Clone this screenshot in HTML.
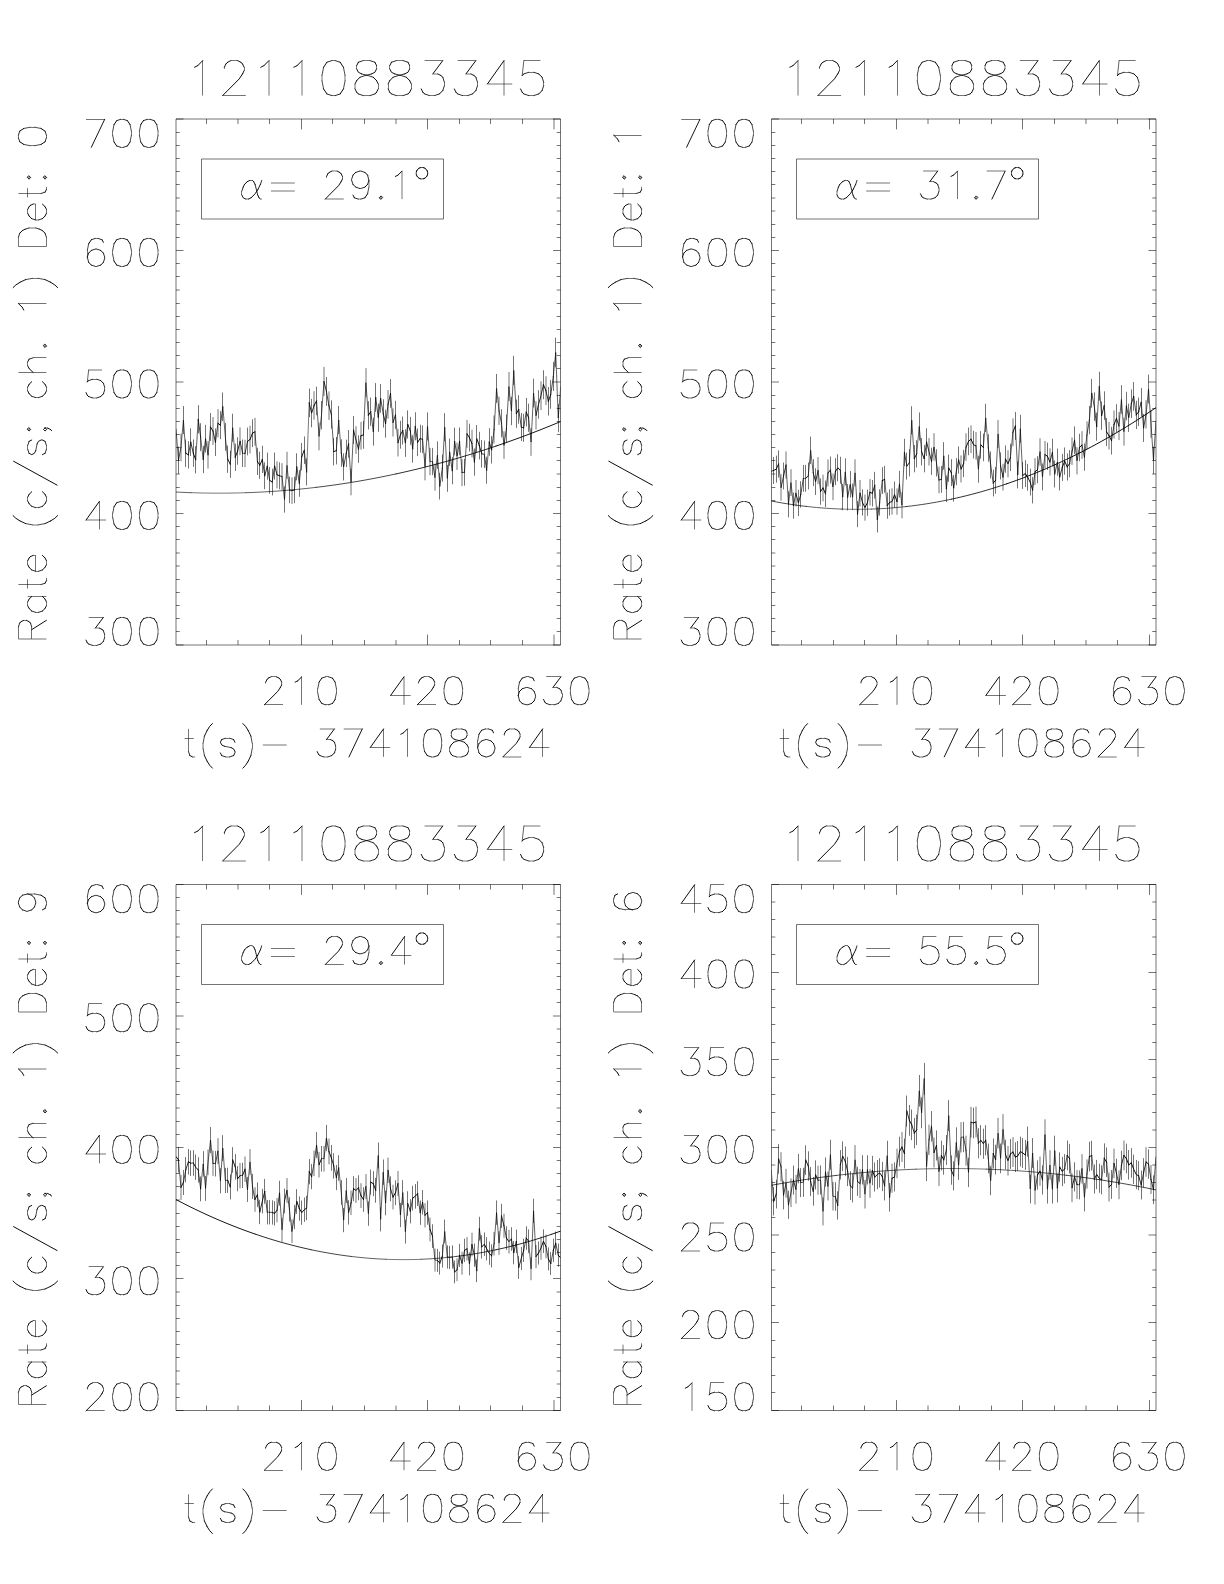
<!DOCTYPE html>
<html><head><meta charset="utf-8"><title>plot</title>
<style>html,body{margin:0;padding:0;background:#fff;font-family:"Liberation Sans",sans-serif}svg{display:block}</style>
</head><body>
<svg width="1224" height="1584" viewBox="0 0 1224 1584">
<rect width="1224" height="1584" fill="#fff"/>
<g fill="none" stroke="#000" stroke-linejoin="round">
<path stroke-width="0.550" d="M176 119H560.5V645H176ZM206.5 119v5M206.5 645v-5M238 119v5M238 645v-5M269.5 119v5M269.5 645v-5M301.5 119v10.4M301.5 645v-10.4M332.5 119v5M332.5 645v-5M364.5 119v5M364.5 645v-5M396 119v5M396 645v-5M427.5 119v10.4M427.5 645v-10.4M459.5 119v5M459.5 645v-5M490.5 119v5M490.5 645v-5M522.5 119v5M522.5 645v-5M554 119v10.4M554 645v-10.4M176 645h7.5M560.5 645h-7.5M176 631.5h3.8M560.5 631.5h-3.8M176 618.5h3.8M560.5 618.5h-3.8M176 605.5h3.8M560.5 605.5h-3.8M176 592.5h3.8M560.5 592.5h-3.8M176 579.5h3.8M560.5 579.5h-3.8M176 566h3.8M560.5 566h-3.8M176 553h3.8M560.5 553h-3.8M176 539.5h3.8M560.5 539.5h-3.8M176 526.5h3.8M560.5 526.5h-3.8M176 513.5h7.5M560.5 513.5h-7.5M176 500.5h3.8M560.5 500.5h-3.8M176 487.5h3.8M560.5 487.5h-3.8M176 474h3.8M560.5 474h-3.8M176 460.5h3.8M560.5 460.5h-3.8M176 447.5h3.8M560.5 447.5h-3.8M176 434.5h3.8M560.5 434.5h-3.8M176 421.5h3.8M560.5 421.5h-3.8M176 408.5h3.8M560.5 408.5h-3.8M176 395.5h3.8M560.5 395.5h-3.8M176 382h7.5M560.5 382h-7.5M176 368.5h3.8M560.5 368.5h-3.8M176 355.5h3.8M560.5 355.5h-3.8M176 342.5h3.8M560.5 342.5h-3.8M176 329.5h3.8M560.5 329.5h-3.8M176 316.5h3.8M560.5 316.5h-3.8M176 303.5h3.8M560.5 303.5h-3.8M176 290h3.8M560.5 290h-3.8M176 276.5h3.8M560.5 276.5h-3.8M176 263.5h3.8M560.5 263.5h-3.8M176 250.5h7.5M560.5 250.5h-7.5M176 237.5h3.8M560.5 237.5h-3.8M176 224.5h3.8M560.5 224.5h-3.8M176 211h3.8M560.5 211h-3.8M176 198h3.8M560.5 198h-3.8M176 184.5h3.8M560.5 184.5h-3.8M176 171.5h3.8M560.5 171.5h-3.8M176 158.5h3.8M560.5 158.5h-3.8M176 145.5h3.8M560.5 145.5h-3.8M176 132.5h3.8M560.5 132.5h-3.8M176 119h7.5M560.5 119h-7.5M201.5 159H443.5V219H201.5ZM178.5 446.53v27.26M181 433.72v27.56M183.5 406.03v28.19M185.5 439.51v27.43M188.5 441.16v27.39M190.5 428.35v27.68M193.5 439.51v27.43M195.5 446.12v27.27M198.5 405.21v28.21M200.5 423.22v27.8M203.5 445.87v27.28M205.5 424.79v27.77M208 441.16v27.39M210.5 412.98v28.03M213 417.03v27.94M215.5 428.35v27.68M218 409.17v28.12M220.5 411.08v28.08M222.5 392.48v28.49M225.5 422.98v27.81M227.5 445.54v27.29M230.5 450.66v27.17M232.5 413.72v28.02M235.5 443.64v27.33M237.5 437.27v27.48M240 427.44v27.71M242.5 439.59v27.43M245 439.75v27.42M247.5 427.6v27.7M250 425.7v27.75M252.5 419.26v27.89M255 417.85v27.92M257.5 447.77v27.24M259.5 451.66v27.15M262.5 445.79v27.28M264.5 462.32v26.89M267.5 452.57v27.12M269.5 466.95v26.79M272.5 468.67v26.74M274.5 452.48v27.13M277 461.39v26.92M279.5 462.35v26.89M282 463.11v26.88M284.5 486.31v26.32M287 451.81v27.14M289.5 476.63v26.56M292 477.39v26.54M294.5 476.72v26.55M296.5 453.25v27.11M299.5 470.11v26.71M301.5 442.99v27.35M304.5 436.48v27.5M306.5 458.52v26.98M309.5 388.49v28.58M311.5 398.93v28.35M314 391.17v28.52M316.5 386.67v28.62M319 422.49v27.82M321.5 401.04v28.3M324 366.95v29.06M326.5 377v28.84M329 391.37v28.52M331.5 400.37v28.32M333.5 437.92v27.46M336.5 436.96v27.49M338.5 405.92v28.19M341.5 439.35v27.43M343.5 453.34v27.11M346.5 439.64v27.42M348.5 430.06v27.65M351 468.58v26.75M353.5 416.07v27.96M356 426.23v27.73M358.5 435.33v27.52M361 421.82v27.83M363.5 420.96v27.85M366 368.14v29.03M368.5 401.17v28.3M370.5 397.53v28.38M373.5 417.74v27.93M375.5 383.07v28.7M378.5 403.57v28.25M380.5 383.93v28.68M383.5 399.26v28.34M385.5 409.6v28.11M388 390.06v28.55M390.5 379.05v28.79M393 408.35v28.14M395.5 400.79v28.31M398 428.85v27.67M400.5 420.81v27.86M402.5 416.59v27.95M405.5 429.24v27.66M407.5 410.37v28.09M410.5 416.88v27.95M412.5 435.18v27.53M415.5 412.28v28.05M417.5 428.47v27.68M420.5 424.73v27.77M422.5 425.4v27.75M425 453.28v27.11M427.5 412.38v28.05M430 447.92v27.23M432.5 447.92v27.23M435 463.82v26.86M437.5 441.4v27.38M439.5 472.83v26.65M442.5 454.62v27.08M444.5 413.14v28.03M447.5 464.97v26.83M449.5 438.53v27.45M452.5 457.31v27.01M454.5 427.61v27.7M457 442.55v27.36M459.5 427.51v27.7M462 459.13v26.97M464.5 458.75v26.98M467 419.94v27.88M469.5 423.68v27.79M472 429.72v27.65M474.5 448.49v27.22M476.5 425.02v27.76M479.5 431.82v27.6M481.5 440.06v27.41M484.5 440.54v27.4M486.5 456.64v27.03M489.5 428.18v27.69M491.5 436.04v27.51M494 415.44v27.98M496.5 373.98v28.9M499 396.57v28.4M501.5 409.22v28.12M504 431.25v27.62M506.5 414.48v28M509 372.06v28.95M511.5 396.77v28.4M513.5 355.79v29.3M516.5 399.54v28.34M518.5 395.23v28.43M521.5 413.05v28.03M523.5 413.81v28.02M526.5 397.92v28.37M528.5 403.57v28.25M531 428.18v27.69M533.5 378.67v28.8M536 401.17v28.3M538.5 390.16v28.55M541 381.35v28.74M543.5 370.24v28.99M546 376.18v28.86M548.5 387v28.62M550.5 380.01v28.77M553.5 361.82v29.17M555.5 337.6v29.69M558.5 404.04v28.24"/>
<clipPath id="c1"><rect x="176" y="119" width="384.5" height="526"/></clipPath><g clip-path="url(#c1)" stroke-linecap="round"><path stroke-linecap="butt" stroke-width="0.550" d="M430 461.5H432.46"/>
<path stroke-width="0.530" d="M306.7 472.01L309.16 402.78M191 492.69L196 492.84L201 492.97L206 493.06L211 493.12L216 493.16L221 493.16L226 493.13L231 493.07L236 492.98L241 492.86L246 492.71"/>
<path stroke-width="0.618" d="M176 429.12L178.47 460.16M180.93 447.5L183.4 420.13L185.86 453.22M195.73 459.75L198.19 419.31M200.66 437.12L203.13 459.51M208.06 454.85L210.52 426.99M222.85 406.73L225.32 436.88L227.79 459.18M230.25 464.25L232.72 427.73L235.18 457.3M242.58 453.3L245.05 453.46M254.91 431.81L257.38 461.39M282.04 476.55L284.5 499.47L286.97 465.38L289.44 489.91M294.37 490L296.83 466.8M299.3 483.47L301.77 456.67M304.23 450.23L306.7 472.01M316.56 400.98L319.03 436.4L321.49 415.19L323.96 381.48M331.36 414.53L333.82 451.65M336.29 450.7L338.76 420.02L341.22 453.07M348.62 443.88L351.09 481.95L353.55 430.06M363.42 434.89L365.88 382.65L368.35 415.32M373.28 431.7L375.75 397.42M390.54 393.45L393.01 422.42M395.47 414.94L397.94 442.69M412.74 448.94L415.2 426.31M422.6 439.28L425.07 466.84L427.53 426.4L430 461.53M434.93 477.25L437.4 455.09L439.86 486.16M442.33 468.16L444.79 427.16L447.26 478.39L449.73 452.25M452.19 470.81L454.66 441.46M459.59 441.36L462.06 472.61M464.52 472.23L466.99 433.88M474.39 462.1L476.85 438.9M486.72 470.15L489.18 442.03M494.11 429.43L496.58 388.43L499.05 410.78M501.51 423.28L503.98 445.06M506.44 428.48L508.91 386.53L511.38 410.97L513.84 370.44L516.31 413.71M528.64 417.69L531.1 442.03L533.57 393.07L536.04 415.32M553.3 376.4L555.76 352.44L558.23 418.16L560.7 386.82M176 492.04L181 492.29L186 492.5L191 492.69M246 492.71L251 492.52L256 492.31L261 492.07L266 491.79L271 491.49L276 491.15L281 490.79L286 490.39L291 489.97L296 489.51L301 489.02L306 488.5L311 487.95L316 487.37"/>
<path stroke-width="0.717" d="M178.47 460.16L180.93 447.5M188.33 454.85L190.8 442.19M198.19 419.31L200.66 437.12M203.13 459.51L205.59 438.68L208.06 454.85M215.46 442.19L217.92 423.24M220.39 425.11L222.85 406.73M240.12 441.29L242.58 453.3M245.05 453.46L247.51 441.45M262.31 459.43L264.78 475.77M267.24 466.13L269.71 480.34M272.17 482.05L274.64 466.04M296.83 466.8L299.3 483.47M326.43 391.42L328.89 405.62M341.22 453.07L343.69 466.89L346.15 453.35M358.48 449.09L360.95 435.74M370.81 411.72L373.28 431.7M375.75 397.42L378.21 417.69L380.68 398.28L383.14 413.43M385.61 423.66L388.08 404.34M402.87 430.57L405.34 443.07L407.8 424.41M410.27 430.85L412.74 448.94M415.2 426.31L417.67 442.31M432.46 461.53L434.93 477.25M439.86 486.16L442.33 468.16M449.73 452.25L452.19 470.81M454.66 441.46L457.12 456.23L459.59 441.36M462.06 472.61L464.52 472.23M471.92 443.54L474.39 462.1M481.78 453.77L484.25 454.24L486.72 470.15M491.65 449.79L494.11 429.43M499.05 410.78L501.51 423.28M503.98 445.06L506.44 428.48M518.77 409.45L521.24 427.06M523.71 427.82L526.17 412.1M550.83 394.39L553.3 376.4M316 487.37L321 486.76L326 486.12L331 485.44L336 484.74L341 484.01L346 483.24L351 482.45L356 481.62L361 480.77L366 479.88L371 478.96L376 478.02L381 477.04L386 476.03L391 474.99L396 473.92"/>
<path stroke-width="0.818" d="M190.8 442.19L193.26 453.22M212.99 431L215.46 442.19M237.65 451.01L240.12 441.29M264.78 475.77L267.24 466.13M274.64 466.04L277.11 474.85M279.57 475.8L282.04 476.55M289.44 489.91L291.9 490.66L294.37 490M309.16 402.78L311.63 413.11L314.1 405.44M323.96 381.48L326.43 391.42M328.89 405.62L331.36 414.53M346.15 453.35L348.62 443.88M353.55 430.06L356.02 440.09L358.48 449.09M383.14 413.43L385.61 423.66M388.08 404.34L390.54 393.45M393.01 422.42L395.47 414.94M397.94 442.69L400.41 434.73M420.13 438.62L422.6 439.28M479.32 445.62L481.78 453.77M489.18 442.03L491.65 449.79M521.24 427.06L523.71 427.82M536.04 415.32L538.5 404.43L540.97 395.72L543.43 384.73M545.9 390.61L548.37 401.31M396 473.92L401 472.82L406 471.68L411 470.52L416 469.33L421 468.11L426 466.85L431 465.57L436 464.25L441 462.9L446 461.53L451 460.12L456 458.68L461 457.21L466 455.71L471 454.18L476 452.62L481 451.03L486 449.41L491 447.76L496 446.07"/>
<path stroke-width="0.918" d="M193.26 453.22L195.73 459.75M227.79 459.18L230.25 464.25M235.18 457.3L237.65 451.01M249.98 439.58L252.45 433.2M259.84 465.23L262.31 459.43M277.11 474.85L279.57 475.8M301.77 456.67L304.23 450.23M333.82 451.65L336.29 450.7M360.95 435.74L363.42 434.89M407.8 424.41L410.27 430.85M469.45 437.58L471.92 443.54M476.85 438.9L479.32 445.62M526.17 412.1L528.64 417.69M543.43 384.73L545.9 390.61M548.37 401.31L550.83 394.39M496 446.07L501 444.36L506 442.62L511 440.84L516 439.04L521 437.2L526 435.33L531 433.43L536 431.51L541 429.55L546 427.56L551 425.54L556 423.49L560.75 421.51"/>
<path stroke-width="0.960" d="M185.86 453.22L188.33 454.85M210.52 426.99L212.99 431M217.92 423.24L220.39 425.11M247.51 441.45L249.98 439.58M252.45 433.2L254.91 431.81M257.38 461.39L259.84 465.23M269.71 480.34L272.17 482.05M314.1 405.44L316.56 400.98M368.35 415.32L370.81 411.72M400.41 434.73L402.87 430.57M417.67 442.31L420.13 438.62M466.99 433.88L469.45 437.58M516.31 413.71L518.77 409.45"/></g>
<path stroke-width="0.550" d="M771.5 119H1156V645H771.5ZM801.5 119v5M801.5 645v-5M833.5 119v5M833.5 645v-5M864.5 119v5M864.5 645v-5M896.5 119v10.4M896.5 645v-10.4M928 119v5M928 645v-5M959.5 119v5M959.5 645v-5M991.5 119v5M991.5 645v-5M1022.5 119v10.4M1022.5 645v-10.4M1054.5 119v5M1054.5 645v-5M1086 119v5M1086 645v-5M1117.5 119v5M1117.5 645v-5M1149.5 119v10.4M1149.5 645v-10.4M771.5 645h7.5M1156 645h-7.5M771.5 631.5h3.8M1156 631.5h-3.8M771.5 618.5h3.8M1156 618.5h-3.8M771.5 605.5h3.8M1156 605.5h-3.8M771.5 592.5h3.8M1156 592.5h-3.8M771.5 579.5h3.8M1156 579.5h-3.8M771.5 566h3.8M1156 566h-3.8M771.5 553h3.8M1156 553h-3.8M771.5 539.5h3.8M1156 539.5h-3.8M771.5 526.5h3.8M1156 526.5h-3.8M771.5 513.5h7.5M1156 513.5h-7.5M771.5 500.5h3.8M1156 500.5h-3.8M771.5 487.5h3.8M1156 487.5h-3.8M771.5 474h3.8M1156 474h-3.8M771.5 460.5h3.8M1156 460.5h-3.8M771.5 447.5h3.8M1156 447.5h-3.8M771.5 434.5h3.8M1156 434.5h-3.8M771.5 421.5h3.8M1156 421.5h-3.8M771.5 408.5h3.8M1156 408.5h-3.8M771.5 395.5h3.8M1156 395.5h-3.8M771.5 382h7.5M1156 382h-7.5M771.5 368.5h3.8M1156 368.5h-3.8M771.5 355.5h3.8M1156 355.5h-3.8M771.5 342.5h3.8M1156 342.5h-3.8M771.5 329.5h3.8M1156 329.5h-3.8M771.5 316.5h3.8M1156 316.5h-3.8M771.5 303.5h3.8M1156 303.5h-3.8M771.5 290h3.8M1156 290h-3.8M771.5 276.5h3.8M1156 276.5h-3.8M771.5 263.5h3.8M1156 263.5h-3.8M771.5 250.5h7.5M1156 250.5h-7.5M771.5 237.5h3.8M1156 237.5h-3.8M771.5 224.5h3.8M1156 224.5h-3.8M771.5 211h3.8M1156 211h-3.8M771.5 198h3.8M1156 198h-3.8M771.5 184.5h3.8M1156 184.5h-3.8M771.5 171.5h3.8M1156 171.5h-3.8M771.5 158.5h3.8M1156 158.5h-3.8M771.5 145.5h3.8M1156 145.5h-3.8M771.5 132.5h3.8M1156 132.5h-3.8M771.5 119h7.5M1156 119h-7.5M796.5 159H1038.5V219H796.5ZM773.5 456.96v27.02M776.5 455.62v27.05M778.5 450.35v27.18M781 474.12v26.62M783.5 462.52v26.89M786 451.41v27.15M788.5 491.18v26.21M791 469.23v26.73M793.5 492.52v26.17M796 480.06v26.47M798.5 489.84v26.24M800.5 481.21v26.45M803.5 464.92v26.83M805.5 464.92v26.83M808.5 462.52v26.89M810.5 436.56v27.5M813.5 459.17v26.97M815.5 468.27v26.75M818 457.06v27.02M820.5 478.33v26.51M823 474.69v26.6M825.5 480.54v26.46M828 459.45v26.96M830.5 456.58v27.03M833 473.54v26.63M835.5 458.21v26.99M837.5 454.18v27.09M840.5 456.77v27.03M842.5 483.89v26.38M845.5 458.4v26.99M847.5 484.08v26.38M850.5 470.95v26.69M852.5 483.61v26.39M855 459.36v26.96M857.5 501.15v25.96M860 479.96v26.48M862.5 489.36v26.25M865 494.57v26.12M867.5 489.59v26.24M870 479.04v26.5M872.5 480v26.47M874.5 471.85v26.67M877.5 506.65v25.83M879.5 489.3v26.25M882.5 467.25v26.78M884.5 465.91v26.81M887.5 492.56v26.17M889.5 489.3v26.25M892 488.34v26.27M894.5 481.44v26.44M897 488.44v26.27M899.5 470.9v26.69M902 492.17v26.18M904.5 438.8v27.44M906.5 452.5v27.13M909.5 449.24v27.2M911.5 406.23v28.19M914.5 445.02v27.3M916.5 440.14v27.41M919.5 412.45v28.05M921.5 438.03v27.46M924.5 445.02v27.3M926.5 428.26v27.69M929 438.03v27.46M931.5 447.71v27.24M934 433.24v27.57M936.5 449.24v27.2M939 466.58v26.79M941.5 466.01v26.81M943.5 442.15v27.37M946.5 475.5v26.58M948.5 454.61v27.08M951.5 459.11v26.97M953.5 475.02v26.59M956.5 458.15v26.99M958.5 446.37v27.27M961 455.41v27.06M963.5 449.95v27.19M966 433.28v27.57M968.5 427.53v27.7M971 425.33v27.75M973.5 430.88v27.63M976 432.03v27.6M978.5 455.7v27.05M980.5 431.08v27.62M983.5 433.66v27.56M985.5 403.78v28.24M988.5 434.14v27.55M990.5 451.39v27.15M993.5 469.69v26.72M995.5 466.91v26.79M998 420.06v27.87M1000.5 452.34v27.13M1003 463.65v26.86M1005.5 445.45v27.29M1008 450.24v27.18M1010.5 443.72v27.33M1013 418.34v27.91M1015.5 411.92v28.06M1017.5 461.45v26.92M1020.5 414.79v27.99M1022.5 462.02v26.9M1025.5 460.11v26.95M1027.5 463.84v26.86M1030.5 468.73v26.74M1032.5 476.88v26.55M1035 458.09v26.99M1037.5 456.18v27.04M1040 438.26v27.46M1042.5 463.46v26.87M1045 440.94v27.39M1047.5 442.57v27.36M1050 448.32v27.22M1052.5 438.74v27.45M1054.5 460.49v26.94M1057.5 448.51v27.22M1059.5 463.56v26.87M1062.5 453.88v27.09M1064.5 447.46v27.24M1067.5 453.4v27.1M1069.5 450.04v27.18M1072 437.4v27.48M1074.5 426.38v27.73M1077 447.17v27.25M1079.5 433.76v27.56M1082 431.17v27.62M1084.5 443.43v27.34M1087 421.3v27.85M1089.5 405.98v28.19M1091.5 378.88v28.8M1094.5 392.38v28.5M1096.5 412.68v28.04M1099.5 371.7v28.95M1101.5 401.48v28.29M1104.5 391.33v28.52M1106.5 418.05v27.92M1109 421.78v27.83M1111.5 426.86v27.72M1114 410.48v28.09M1116.5 404.26v28.23M1119 412.01v28.06M1121.5 385.1v28.66M1124 417.76v27.93M1126.5 391.81v28.51M1128.5 403.68v28.24M1131.5 389.41v28.56M1133.5 382.04v28.73M1136.5 400.81v28.31M1138.5 397.55v28.38M1141.5 387.98v28.6M1143.5 413.93v28.01M1146 400.23v28.32M1148.5 374.57v28.89M1151 409.81v28.11M1153.5 446.69v27.26"/>
<clipPath id="c2"><rect x="771.5" y="119" width="384.5" height="526"/></clipPath><g clip-path="url(#c2)" stroke-linecap="round"><path stroke-linecap="butt" stroke-width="0.550" d="M803.3 478.5H805.76"/>
<path stroke-width="0.530" d="M841.24 509.05L846.24 509.2L851.24 509.29L856.24 509.33L861.24 509.3L866.24 509.23L871.24 509.09"/>
<path stroke-width="0.618" d="M778.64 463.94L781.1 487.42M786.04 464.98L788.5 504.28L790.97 482.59L793.43 505.61M808.23 475.97L810.7 450.3L813.16 472.65M818.09 470.57L820.56 491.59M840.29 470.28L842.75 497.08L845.22 471.89L847.69 497.27M852.62 496.8L855.08 472.84L857.55 514.13M874.81 485.19L877.28 519.56M879.74 502.42L882.21 480.64M884.68 479.32L887.14 505.64M899.47 484.24L901.94 505.27L904.4 452.52M909.34 462.84L911.8 420.32L914.27 458.67M916.73 453.84L919.2 426.48L921.67 451.76M941.39 479.41L943.86 455.83L946.33 488.79M975.92 445.83L978.38 469.22L980.85 444.89M983.32 447.44L985.78 417.9L988.25 447.92M995.65 480.3L998.11 434L1000.58 465.91M1010.44 457.39L1012.91 432.29M1015.37 425.95L1017.84 474.91L1020.31 428.79L1022.77 475.47M1040.03 451.99L1042.5 476.89L1044.97 454.64M1052.36 452.46L1054.83 473.96M1084.42 457.1L1086.89 435.23M1089.35 420.08L1091.82 393.28M1096.75 426.7L1099.22 386.17L1101.68 415.62M1104.15 405.59L1106.62 432.01M1118.95 426.04L1121.41 399.43L1123.88 431.72L1126.34 406.06M1141.14 402.27L1143.61 427.94M1146.07 414.39L1148.54 389.02L1151 423.86L1153.47 460.32L1155.94 421.02M806.24 506.41L811.24 506.96L816.24 507.45L821.24 507.88L826.24 508.26L831.24 508.58L836.24 508.84L841.24 509.05M871.24 509.09L876.24 508.9L881.24 508.65L886.24 508.35L891.24 507.98L896.24 507.56L901.24 507.09L906.24 506.56"/>
<path stroke-width="0.717" d="M781.1 487.42L783.57 475.97M793.43 505.61L795.9 493.3M800.83 494.43L803.3 478.33M825.49 493.77L827.96 472.94M830.42 470.09L832.89 486.86L835.36 471.7M847.69 497.27L850.15 484.3L852.62 496.8M857.55 514.13L860.02 493.2M877.28 519.56L879.74 502.42M897.01 501.57L899.47 484.24M904.4 452.52L906.87 466.06M924.13 458.67L926.6 442.1M931.53 461.33L934 447.03L936.46 462.84L938.93 479.98M946.33 488.79L948.79 468.14M951.26 472.59L953.72 488.31L956.19 471.65L958.66 460M963.59 463.54L966.05 447.06M988.25 447.92L990.71 464.96L993.18 483.05M1003.04 477.08L1005.51 459.09M1032.64 490.15L1035.1 471.59M1037.57 469.7L1040.03 451.99M1054.83 473.96L1057.3 462.12L1059.76 476.99M1069.63 463.64L1072.09 451.14M1074.56 440.25L1077.02 460.8L1079.49 447.54M1081.96 444.98L1084.42 457.1M1086.89 435.23L1089.35 420.08M1091.82 393.28L1094.29 406.63L1096.75 426.7M1111.55 440.72L1114.01 424.53M1126.34 406.06L1128.81 417.8L1131.28 403.69M1133.74 396.4L1136.21 414.96M1143.61 427.94L1146.07 414.39M771.24 500.99L776.24 501.93L781.24 502.82L786.24 503.65L791.24 504.43L796.24 505.15L801.24 505.81L806.24 506.41M906.24 506.56L911.24 505.97L916.24 505.32L921.24 504.62L926.24 503.86L931.24 503.04L936.24 502.17L941.24 501.24L946.24 500.25L951.24 499.21"/>
<path stroke-width="0.818" d="M771.24 471.23L773.71 470.47M783.57 475.97L786.04 464.98M795.9 493.3L798.37 502.95L800.83 494.43M813.16 472.65L815.63 481.65L818.09 470.57M860.02 493.2L862.48 502.48M867.41 502.71L869.88 492.29M872.35 493.24L874.81 485.19M926.6 442.1L929.06 451.76L931.53 461.33M938.93 479.98L941.39 479.41M958.66 460L961.12 468.94M1000.58 465.91L1003.04 477.08M1030.17 482.1L1032.64 490.15M1049.9 461.93L1052.36 452.46M1059.76 476.99L1062.23 467.42M1072.09 451.14L1074.56 440.25M1101.68 415.62L1104.15 405.59M1116.48 418.37L1118.95 426.04M1131.28 403.69L1133.74 396.4M1138.67 411.74L1141.14 402.27M951.24 499.21L956.24 498.1L961.24 496.95L966.24 495.73L971.24 494.46L976.24 493.13L981.24 491.75L986.24 490.31L991.24 488.81L996.24 487.25L1001.24 485.64L1006.24 483.97"/>
<path stroke-width="0.918" d="M776.17 469.15L778.64 463.94M823.03 487.99L825.49 493.77M862.48 502.48L864.95 507.63L867.41 502.71M869.88 492.29L872.35 493.24M889.61 502.42L892.07 501.48L894.54 494.66L897.01 501.57M914.27 458.67L916.73 453.84M921.67 451.76L924.13 458.67M961.12 468.94L963.59 463.54M966.05 447.06L968.52 441.38M970.99 439.2L973.45 444.7L975.92 445.83M1005.51 459.09L1007.98 463.83L1010.44 457.39M1012.91 432.29L1015.37 425.95M1027.7 477.27L1030.17 482.1M1047.43 456.25L1049.9 461.93M1062.23 467.42L1064.69 461.08L1067.16 466.95M1109.08 435.7L1111.55 440.72M1114.01 424.53L1116.48 418.37M1006.24 483.97L1011.24 482.24L1016.24 480.46L1021.24 478.62L1026.24 476.73L1031.24 474.77L1036.24 472.76L1041.24 470.69L1046.24 468.57L1051.24 466.39L1056.24 464.15L1061.24 461.86L1066.24 459.51L1071.24 457.1L1076.24 454.63L1081.24 452.11L1086.24 449.53"/>
<path stroke-width="0.960" d="M773.71 470.47L776.17 469.15M805.76 478.33L808.23 475.97M820.56 491.59L823.03 487.99M827.96 472.94L830.42 470.09M835.36 471.7L837.82 467.73L840.29 470.28M882.21 480.64L884.68 479.32M887.14 505.64L889.61 502.42M906.87 466.06L909.34 462.84M948.79 468.14L951.26 472.59M968.52 441.38L970.99 439.2M980.85 444.89L983.32 447.44M993.18 483.05L995.65 480.3M1022.77 475.47L1025.24 473.58L1027.7 477.27M1035.1 471.59L1037.57 469.7M1044.97 454.64L1047.43 456.25M1067.16 466.95L1069.63 463.64M1079.49 447.54L1081.96 444.98M1106.62 432.01L1109.08 435.7M1136.21 414.96L1138.67 411.74M1086.24 449.53L1091.24 446.9L1096.24 444.21L1101.24 441.46L1106.24 438.65L1111.24 435.79L1116.24 432.87L1121.24 429.89L1126.24 426.86L1131.24 423.77L1136.24 420.63L1141.24 417.42L1146.24 414.16L1151.24 410.84L1155.99 407.64"/></g>
<path stroke-width="0.550" d="M176 884.5H560.5V1410.5H176ZM206.5 884.5v5M206.5 1410.5v-5M238 884.5v5M238 1410.5v-5M269.5 884.5v5M269.5 1410.5v-5M301.5 884.5v10.4M301.5 1410.5v-10.4M332.5 884.5v5M332.5 1410.5v-5M364.5 884.5v5M364.5 1410.5v-5M396 884.5v5M396 1410.5v-5M427.5 884.5v10.4M427.5 1410.5v-10.4M459.5 884.5v5M459.5 1410.5v-5M490.5 884.5v5M490.5 1410.5v-5M522.5 884.5v5M522.5 1410.5v-5M554 884.5v10.4M554 1410.5v-10.4M176 1410.5h7.5M560.5 1410.5h-7.5M176 1397.5h3.8M560.5 1397.5h-3.8M176 1384h3.8M560.5 1384h-3.8M176 1371h3.8M560.5 1371h-3.8M176 1357.5h3.8M560.5 1357.5h-3.8M176 1344.5h3.8M560.5 1344.5h-3.8M176 1331.5h3.8M560.5 1331.5h-3.8M176 1318.5h3.8M560.5 1318.5h-3.8M176 1305.5h3.8M560.5 1305.5h-3.8M176 1292h3.8M560.5 1292h-3.8M176 1278.5h7.5M560.5 1278.5h-7.5M176 1265.5h3.8M560.5 1265.5h-3.8M176 1252.5h3.8M560.5 1252.5h-3.8M176 1239.5h3.8M560.5 1239.5h-3.8M176 1226.5h3.8M560.5 1226.5h-3.8M176 1213.5h3.8M560.5 1213.5h-3.8M176 1200h3.8M560.5 1200h-3.8M176 1186.5h3.8M560.5 1186.5h-3.8M176 1173.5h3.8M560.5 1173.5h-3.8M176 1160.5h3.8M560.5 1160.5h-3.8M176 1147.5h7.5M560.5 1147.5h-7.5M176 1134.5h3.8M560.5 1134.5h-3.8M176 1121.5h3.8M560.5 1121.5h-3.8M176 1108h3.8M560.5 1108h-3.8M176 1094.5h3.8M560.5 1094.5h-3.8M176 1081.5h3.8M560.5 1081.5h-3.8M176 1068.5h3.8M560.5 1068.5h-3.8M176 1055.5h3.8M560.5 1055.5h-3.8M176 1042.5h3.8M560.5 1042.5h-3.8M176 1029h3.8M560.5 1029h-3.8M176 1016h7.5M560.5 1016h-7.5M176 1002.5h3.8M560.5 1002.5h-3.8M176 989.5h3.8M560.5 989.5h-3.8M176 976.5h3.8M560.5 976.5h-3.8M176 963.5h3.8M560.5 963.5h-3.8M176 950.5h3.8M560.5 950.5h-3.8M176 937h3.8M560.5 937h-3.8M176 924h3.8M560.5 924h-3.8M176 910.5h3.8M560.5 910.5h-3.8M176 897.5h3.8M560.5 897.5h-3.8M176 884.5h7.5M560.5 884.5h-7.5M201.5 924.5H443.5V984.5H201.5ZM178.5 1146.9v25.67M181 1174.9v24.97M183.5 1169.91v25.1M185.5 1156.97v25.42M188.5 1149.01v25.62M190.5 1150.45v25.59M193.5 1150.16v25.59M195.5 1154.47v25.49M198.5 1157.16v25.42M200.5 1176.43v24.93M203.5 1151.12v25.57M205.5 1175.95v24.95M208 1149.49v25.61M210.5 1126.96v26.16M213 1150.54v25.58M215.5 1150.92v25.57M218 1138.17v25.89M220.5 1168.19v25.14M222.5 1135.11v25.96M225.5 1167.9v25.15M227.5 1167.71v25.16M230.5 1174.42v24.99M232.5 1147.09v25.67M235.5 1154.09v25.5M237.5 1166.08v25.2M240 1163.01v25.27M242.5 1162.72v25.28M245 1156.49v25.44M247.5 1177.01v24.92M250 1149.1v25.62M252.5 1173.94v25M255 1187.18v24.66M257.5 1182.38v24.78M259.5 1199.84v24.33M262.5 1188.81v24.62M264.5 1178.93v24.87M267.5 1200.03v24.33M269.5 1200.11v24.33M272.5 1200.3v24.32M274.5 1201.17v24.3M277 1198v24.38M279.5 1180.73v24.82M282 1217.86v23.86M284.5 1188.6v24.62M287 1178.05v24.89M289.5 1197.23v24.4M292 1219.3v23.82M294.5 1204.91v24.2M296.5 1189.17v24.61M299.5 1196.37v24.42M301.5 1200.49v24.32M304.5 1197.52v24.39M306.5 1195.79v24.44M309.5 1158.96v25.37M311.5 1163.95v25.25M314 1150.52v25.58M316.5 1132.02v26.04M319 1151.96v25.55M321.5 1145.92v25.7M324 1145.92v25.7M326.5 1124.92v26.21M329 1138.54v25.88M331.5 1144.96v25.72M333.5 1153.11v25.52M336.5 1164.91v25.23M338.5 1155.22v25.47M341.5 1179.96v24.84M343.5 1208.07v24.12M346.5 1178.05v24.89M348.5 1200.21v24.32M351 1190.52v24.57M353.5 1176.22v24.94M356 1178.05v24.89M358.5 1175.26v24.96M361 1183.23v24.76M363.5 1187.16v24.66M366 1174.09v24.99M368.5 1201.53v24.29M370.5 1169.59v25.11M373.5 1171.12v25.07M375.5 1177.83v24.9M378.5 1142.54v25.78M380.5 1207.29v24.14M383.5 1159.52v25.36M385.5 1190.78v24.57M388 1157.6v25.41M390.5 1176.3v24.94M393 1184.74v24.72M395.5 1180.33v24.84M398 1171.02v25.07M400.5 1202.87v24.25M402.5 1180.14v24.84M405.5 1219.76v23.81M407.5 1191.26v24.55M410.5 1199.04v24.35M412.5 1185.8v24.7M415.5 1183.97v24.74M417.5 1181.19v24.81M420.5 1200.57v24.31M422.5 1190.02v24.59M425 1203.16v24.25M427.5 1200.47v24.32M430 1217.56v23.87M432.5 1224.27v23.69M435 1248.56v23.03M437.5 1248.85v23.02M439.5 1251.63v22.94M442.5 1244.43v23.14M444.5 1219.57v23.81M447.5 1245.39v23.12M449.5 1245.87v23.1M452.5 1245.39v23.12M454.5 1260.56v22.7M457 1258.36v22.76M459.5 1243.76v23.16M462 1251.73v22.94M464.5 1238.73v23.3M467 1237.1v23.34M469.5 1252.46v22.92M472 1232.78v23.46M474.5 1243.53v23.17M476.5 1259.37v22.73M479.5 1216.75v23.89M481.5 1235.18v23.39M484.5 1232.49v23.47M486.5 1237.1v23.34M489.5 1241.61v23.22M491.5 1244.3v23.15M494 1232.01v23.48M496.5 1200.44v24.32M499 1231.34v23.5M501.5 1203.79v24.23M504 1213.77v23.97M506.5 1226.25v23.63M509 1229.9v23.54M511.5 1227.21v23.61M513.5 1241.03v23.24M516.5 1229.61v23.54M518.5 1256.11v22.82M521.5 1246.89v23.08M523.5 1238.73v23.3M526.5 1226.25v23.63M528.5 1229.42v23.55M531 1257.45v22.78M533.5 1198.71v24.36M536 1244.97v23.13M538.5 1241.42v23.22M541 1236.43v23.36M543.5 1229.42v23.55M546 1234.7v23.41M548.5 1247.37v23.06M550.5 1252.08v22.93M553.5 1238.73v23.3M555.5 1231.53v23.49M558.5 1243.53v23.17"/>
<clipPath id="c3"><rect x="176" y="884.5" width="384.5" height="526"/></clipPath><g clip-path="url(#c3)" stroke-linecap="round"><path stroke-linecap="butt" stroke-width="0.550" d="M321.49 1158.5H323.96"/>
<path stroke-width="0.530" d="M267.24 1212.2L269.71 1212.27M386 1259.28L391 1259.46L396 1259.57L401 1259.63L406 1259.64L411 1259.58L416 1259.47L421 1259.29"/>
<path stroke-width="0.618" d="M178.47 1159.73L180.93 1187.39M190.8 1163.24L193.26 1162.95M200.66 1188.9L203.13 1163.9L205.59 1188.43L208.06 1162.29L210.52 1140.04L212.99 1163.33M217.92 1151.12L220.39 1180.76L222.85 1148.09L225.32 1180.47L227.79 1180.28M230.25 1186.91L232.72 1159.92M240.12 1175.64L242.58 1175.36M247.51 1189.47L249.98 1161.91L252.45 1186.44M269.71 1212.27L272.17 1212.46M279.57 1193.14L282.04 1229.79L284.5 1200.91M289.44 1209.43L291.9 1231.21M306.7 1208.01L309.16 1171.65M338.76 1167.95L341.22 1192.39L343.69 1220.13L346.15 1190.49L348.62 1212.37M365.88 1186.59L368.35 1213.67L370.81 1182.14M375.75 1190.28L378.21 1155.44L380.68 1219.36L383.14 1172.2L385.61 1203.07L388.08 1170.3M397.94 1183.56L400.41 1215L402.87 1192.56L405.34 1231.67L407.8 1203.54M432.46 1236.12L434.93 1260.08L437.4 1260.36M442.33 1256L444.79 1231.48L447.26 1256.95M476.85 1270.74L479.32 1228.69M494.11 1243.75L496.58 1212.59L499.05 1243.09L501.51 1215.91M516.31 1241.38L518.77 1267.52M528.64 1241.19L531.1 1268.84L533.57 1210.89L536.04 1256.53M351 1256.43L356 1257.01L361 1257.53L366 1258L371 1258.41L376 1258.75L381 1259.05L386 1259.28M421 1259.29L426 1259.06L431 1258.78L436 1258.43L441 1258.03L446 1257.57L451 1257.05L456 1256.47"/>
<path stroke-width="0.717" d="M183.4 1182.46L185.86 1169.68M198.19 1169.87L200.66 1188.9M212.99 1163.33L215.46 1163.71L217.92 1151.12M235.18 1166.84L237.65 1178.67M245.05 1169.2L247.51 1189.47M252.45 1186.44L254.91 1199.51M257.38 1194.77L259.84 1212.01M264.78 1191.36L267.24 1212.2M277.11 1210.19L279.57 1193.14M286.97 1190.49L289.44 1209.43M291.9 1231.21L294.37 1217.01L296.83 1201.48M311.63 1176.57L314.1 1163.31L316.56 1145.04L319.03 1164.73M323.96 1158.77L326.43 1138.03L328.89 1151.48M333.82 1165.87L336.29 1177.52M351.09 1202.8L353.55 1188.69M363.42 1199.49L365.88 1186.59M388.08 1170.3L390.54 1188.77M410.27 1211.21L412.74 1198.14M417.67 1193.6L420.13 1212.73M422.6 1202.31L425.07 1215.28M427.53 1212.63L430 1229.49M447.26 1256.95L449.73 1257.42L452.19 1256.95L454.66 1271.91M457.12 1269.73L459.59 1255.34M462.06 1263.2L464.52 1250.38M466.99 1248.77L469.45 1263.92L471.92 1244.51M474.39 1255.11L476.85 1270.74M479.32 1228.69L481.78 1246.88M491.65 1255.87L494.11 1243.75M503.98 1225.76L506.44 1238.07M511.38 1239.02L513.84 1252.65M523.71 1250.38L526.17 1238.07M545.9 1246.4L548.37 1258.9M550.83 1263.54L553.3 1250.38M555.76 1243.28L558.23 1255.11M311 1249.69L316 1250.73L321 1251.72L326 1252.65L331 1253.52L336 1254.33L341 1255.09L346 1255.79L351 1256.43M456 1256.47L461 1255.83L466 1255.14L471 1254.39L476 1253.58L481 1252.71L486 1251.79L491 1250.8L496 1249.76"/>
<path stroke-width="0.818" d="M185.86 1169.68L188.33 1161.82M259.84 1212.01L262.31 1201.12L264.78 1191.36M284.5 1200.91L286.97 1190.49M331.36 1157.82L333.82 1165.87M336.29 1177.52L338.76 1167.95M348.62 1212.37L351.09 1202.8M358.48 1187.75L360.95 1195.61M390.54 1188.77L393.01 1197.1M395.47 1192.75L397.94 1183.56M407.8 1203.54L410.27 1211.21M420.13 1212.73L422.6 1202.31M459.59 1255.34L462.06 1263.2M471.92 1244.51L474.39 1255.11M501.51 1215.91L503.98 1225.76M513.84 1252.65L516.31 1241.38M518.77 1267.52L521.24 1258.43L523.71 1250.38M256 1234.37L261 1236.05L266 1237.67L271 1239.24L276 1240.75L281 1242.2L286 1243.59L291 1244.93L296 1246.2L301 1247.42L306 1248.58L311 1249.69M496 1249.76L501 1248.66L506 1247.5L511 1246.29L516 1245.02L521 1243.69L526 1242.3L531 1240.85L536 1239.34L541 1237.78L546 1236.16L551 1234.48"/>
<path stroke-width="0.918" d="M180.93 1187.39L183.4 1182.46M227.79 1180.28L230.25 1186.91M232.72 1159.92L235.18 1166.84M242.58 1175.36L245.05 1169.2M254.91 1199.51L257.38 1194.77M272.17 1212.46L274.64 1213.31M296.83 1201.48L299.3 1208.58M309.16 1171.65L311.63 1176.57M319.03 1164.73L321.49 1158.77M328.89 1151.48L331.36 1157.82M373.28 1183.66L375.75 1190.28M430 1229.49L432.46 1236.12M439.86 1263.11L442.33 1256M538.5 1253.03L540.97 1248.11L543.43 1241.19L545.9 1246.4M553.3 1250.38L555.76 1243.28M176 1199.56L181 1202.17L186 1204.72L191 1207.22L196 1209.65L201 1212.03L206 1214.35L211 1216.61L216 1218.82L221 1220.96L226 1223.05L231 1225.08L236 1227.06L241 1228.97L246 1230.83L251 1232.62L256 1234.37M551 1234.48L556 1232.75L560.75 1231.04"/>
<path stroke-width="0.960" d="M176 1156.61L178.47 1159.73M188.33 1161.82L190.8 1163.24M193.26 1162.95L195.73 1167.22L198.19 1169.87M237.65 1178.67L240.12 1175.64M274.64 1213.31L277.11 1210.19M299.3 1208.58L301.77 1212.65L304.23 1209.72L306.7 1208.01M353.55 1188.69L356.02 1190.49L358.48 1187.75M360.95 1195.61L363.42 1199.49M370.81 1182.14L373.28 1183.66M393.01 1197.1L395.47 1192.75M412.74 1198.14L415.2 1196.34L417.67 1193.6M425.07 1215.28L427.53 1212.63M437.4 1260.36L439.86 1263.11M454.66 1271.91L457.12 1269.73M464.52 1250.38L466.99 1248.77M481.78 1246.88L484.25 1244.22L486.72 1248.77L489.18 1253.22L491.65 1255.87M506.44 1238.07L508.91 1241.67L511.38 1239.02M526.17 1238.07L528.64 1241.19M536.04 1256.53L538.5 1253.03M548.37 1258.9L550.83 1263.54M558.23 1255.11L560.7 1257.95"/></g>
<path stroke-width="0.550" d="M771.5 884.5H1156V1410.5H771.5ZM801.5 884.5v5M801.5 1410.5v-5M833.5 884.5v5M833.5 1410.5v-5M864.5 884.5v5M864.5 1410.5v-5M896.5 884.5v10.4M896.5 1410.5v-10.4M928 884.5v5M928 1410.5v-5M959.5 884.5v5M959.5 1410.5v-5M991.5 884.5v5M991.5 1410.5v-5M1022.5 884.5v10.4M1022.5 1410.5v-10.4M1054.5 884.5v5M1054.5 1410.5v-5M1086 884.5v5M1086 1410.5v-5M1117.5 884.5v5M1117.5 1410.5v-5M1149.5 884.5v10.4M1149.5 1410.5v-10.4M771.5 1410.5h7.5M1156 1410.5h-7.5M771.5 1392.5h3.8M1156 1392.5h-3.8M771.5 1375.5h3.8M1156 1375.5h-3.8M771.5 1357.5h3.8M1156 1357.5h-3.8M771.5 1340.5h3.8M1156 1340.5h-3.8M771.5 1322.5h7.5M1156 1322.5h-7.5M771.5 1305.5h3.8M1156 1305.5h-3.8M771.5 1287.5h3.8M1156 1287.5h-3.8M771.5 1270h3.8M1156 1270h-3.8M771.5 1252.5h3.8M1156 1252.5h-3.8M771.5 1235h7.5M1156 1235h-7.5M771.5 1217.5h3.8M1156 1217.5h-3.8M771.5 1200h3.8M1156 1200h-3.8M771.5 1182.5h3.8M1156 1182.5h-3.8M771.5 1165h3.8M1156 1165h-3.8M771.5 1147.5h7.5M1156 1147.5h-7.5M771.5 1130h3.8M1156 1130h-3.8M771.5 1112.5h3.8M1156 1112.5h-3.8M771.5 1094.5h3.8M1156 1094.5h-3.8M771.5 1077.5h3.8M1156 1077.5h-3.8M771.5 1059.5h7.5M1156 1059.5h-7.5M771.5 1042.5h3.8M1156 1042.5h-3.8M771.5 1024.5h3.8M1156 1024.5h-3.8M771.5 1007.5h3.8M1156 1007.5h-3.8M771.5 989.5h3.8M1156 989.5h-3.8M771.5 972.5h7.5M1156 972.5h-7.5M771.5 954.5h3.8M1156 954.5h-3.8M771.5 937h3.8M1156 937h-3.8M771.5 919.5h3.8M1156 919.5h-3.8M771.5 902h3.8M1156 902h-3.8M771.5 884.5h7.5M1156 884.5h-7.5M796.5 924.5H1038.5V984.5H796.5ZM773.5 1187.06v28.42M776.5 1179.85v28.63M778.5 1144.11v29.67M781 1152.17v29.44M783.5 1180.81v28.61M786 1168.8v28.96M788.5 1190.61v28.32M791 1178.41v28.68M793.5 1165.63v29.05M796 1174.85v28.78M798.5 1153.9v29.39M800.5 1168.12v28.98M803.5 1167.84v28.99M805.5 1145.26v29.64M808.5 1151.31v29.46M810.5 1166.97v29.01M813.5 1176.97v28.72M815.5 1160.34v29.2M818 1165.72v29.05M820.5 1165.43v29.06M823 1197.34v28.11M825.5 1157.46v29.29M828 1171.58v28.88M830.5 1139.78v29.79M833 1181.96v28.57M835.5 1182.25v28.56M837.5 1191.29v28.3M840.5 1150.06v29.5M842.5 1141.42v29.75M845.5 1146.51v29.6M847.5 1156.79v29.31M850.5 1171.2v28.89M852.5 1173.6v28.82M855 1144.97v29.64M857.5 1166.88v29.01M860 1169.09v28.95M862.5 1155.15v29.35M865 1179.89v28.63M867.5 1155.19v29.35M870 1168.84v28.96M872.5 1155.86v29.33M874.5 1162.4v29.14M877.5 1160v29.21M879.5 1158.27v29.26M882.5 1161.92v29.16M884.5 1171.53v28.88M887.5 1140.78v29.76M889.5 1183.06v28.54M892 1163.65v29.11M894.5 1162.4v29.14M897 1148.66v29.54M899.5 1136.65v29.88M902 1132.04v30.01M904.5 1138.67v29.82M906.5 1095.55v31.02M909.5 1104.96v30.76M911.5 1109.47v30.64M914.5 1117.92v30.4M916.5 1114.56v30.5M919.5 1075.01v31.57M921.5 1097.28v30.97M924.5 1062.92v31.9M926.5 1151.64v29.45M929 1124.65v30.22M931.5 1111.01v30.6M934 1137.61v29.85M936.5 1130.41v30.06M939 1156.63v29.31M941.5 1140.69v29.77M943.5 1145.1v29.64M946.5 1135.02v29.93M948.5 1100.16v30.89M951.5 1155.38v29.35M953.5 1161.24v29.18M956.5 1127.33v30.14M958.5 1150.39v29.49M961 1122.13v30.29M963.5 1121.94v30.29M966 1135.67v29.91M968.5 1157.77v29.28M971 1106.86v30.71M973.5 1107.63v30.69M976 1106.57v30.72M978.5 1128.18v30.12M980.5 1125.11v30.2M983.5 1128.66v30.1M985.5 1125.11v30.2M988.5 1143.55v29.68M990.5 1166.13v29.04M993.5 1138.55v29.83M995.5 1144.8v29.65M998 1117.9v30.4M1000.5 1143.55v29.68M1003 1114.06v30.51M1005.5 1139.71v29.79M1008 1145.95v29.62M1010.5 1139.03v29.81M1013 1137.11v29.87M1015.5 1142.3v29.72M1017.5 1140.95v29.76M1020.5 1136.63v29.88M1022.5 1138.07v29.84M1025.5 1139.99v29.79M1027.5 1126.55v30.16M1030.5 1174.58v28.79M1032.5 1138.07v29.84M1035 1175.74v28.76M1037.5 1160.36v29.2M1040 1156.52v29.31M1042.5 1165.45v29.06M1045 1119.34v30.36M1047.5 1174.77v28.78M1050 1150.27v29.49M1052.5 1174.77v28.78M1054.5 1135.67v29.91M1057.5 1173.53v28.82M1059.5 1152.39v29.43M1062.5 1156.81v29.31M1064.5 1154.12v29.38M1067.5 1140.47v29.77M1069.5 1143.84v29.68M1072 1173.33v28.83M1074.5 1162.28v29.15M1077 1170.07v28.92M1079.5 1170.45v28.91M1082 1154.12v29.38M1084.5 1182.94v28.54M1087 1159.4v29.23M1089.5 1141.72v29.74M1091.5 1140.76v29.76M1094.5 1164.49v29.08M1096.5 1159.88v29.22M1099.5 1163.72v29.11M1101.5 1165.26v29.06M1104.5 1143.36v29.69M1106.5 1147.39v29.58M1109 1172.66v28.85M1111.5 1169.97v28.92M1114 1148.64v29.54M1116.5 1158.73v29.25M1119 1170.35v28.91M1121.5 1150.75v29.48M1124 1140.47v29.77M1126.5 1143.64v29.68M1128.5 1150.08v29.5M1131.5 1148.16v29.55M1133.5 1154.6v29.37M1136.5 1159.98v29.21M1138.5 1161.13v29.18M1141.5 1170.55v28.91M1143.5 1158.15v29.27M1146 1147.2v29.58M1148.5 1149.31v29.52M1151 1164.88v29.07M1153.5 1175.35v28.77"/>
<clipPath id="c4"><rect x="771.5" y="884.5" width="384.5" height="526"/></clipPath><g clip-path="url(#c4)" stroke-linecap="round"><path stroke-linecap="butt" stroke-width="0.550" d=""/>
<path stroke-width="0.530" d="M924.13 1078.86L926.6 1166.36M916.24 1169.2L921.24 1169.03L926.24 1168.88L931.24 1168.76L936.24 1168.67L941.24 1168.6L946.24 1168.56L951.24 1168.54L956.24 1168.55L961.24 1168.58L966.24 1168.64L971.24 1168.73L976.24 1168.84L981.24 1168.98L986.24 1169.14"/>
<path stroke-width="0.618" d="M771.24 1170.49L773.71 1201.27M776.17 1194.17L778.64 1158.94M781.1 1166.89L783.57 1195.11M786.04 1183.28L788.5 1204.77M800.83 1182.61L803.3 1182.33L805.76 1160.08M818.09 1180.25L820.56 1179.96L823.03 1211.4L825.49 1172.1M827.96 1186.02L830.42 1154.68L832.89 1196.25L835.36 1196.53M837.82 1205.44L840.29 1164.81M852.62 1188.01L855.08 1159.79L857.55 1181.38M862.48 1169.83L864.95 1194.2L867.41 1169.87M884.68 1185.97L887.14 1155.66L889.61 1197.33M904.4 1153.58L906.87 1111.06M916.73 1129.81L919.2 1090.8L921.67 1112.77L924.13 1078.86M926.6 1166.36L929.06 1139.75M931.53 1126.31L934 1152.54M936.46 1145.44L938.93 1171.29M946.33 1149.98L948.79 1115.61L951.26 1170.06M953.72 1175.83L956.19 1142.41L958.66 1165.13L961.12 1137.27L963.59 1137.08M966.05 1150.62L968.52 1172.41L970.99 1122.22M975.92 1121.93L978.38 1143.24M988.25 1158.39L990.71 1180.64L993.18 1153.47M995.65 1159.62L998.11 1133.11L1000.58 1158.39L1003.04 1129.32L1005.51 1154.6M1027.7 1141.63L1030.17 1188.98L1032.64 1152.99L1035.1 1190.11M1042.5 1179.98L1044.97 1134.53L1047.43 1189.17L1049.9 1165.02L1052.36 1189.17L1054.83 1150.62L1057.3 1187.94M1069.63 1158.67L1072.09 1187.75M1081.96 1168.81L1084.42 1197.22L1086.89 1174.02M1091.82 1155.64L1094.29 1179.03M1101.68 1179.79L1104.15 1158.2M1106.62 1162.18L1109.08 1187.08M1111.55 1184.43L1114.01 1163.41M1153.47 1189.73L1155.94 1156.97M836.24 1175.42L841.24 1174.84L846.24 1174.29L851.24 1173.76L856.24 1173.25L861.24 1172.77L866.24 1172.32L871.24 1171.89L876.24 1171.49L881.24 1171.11L886.24 1170.76L891.24 1170.44L896.24 1170.14L901.24 1169.86L906.24 1169.62L911.24 1169.39L916.24 1169.2M986.24 1169.14L991.24 1169.33L996.24 1169.54L1001.24 1169.78L1006.24 1170.05L1011.24 1170.34L1016.24 1170.66L1021.24 1171L1026.24 1171.37L1031.24 1171.76L1036.24 1172.18L1041.24 1172.62L1046.24 1173.1L1051.24 1173.59L1056.24 1174.11L1061.24 1174.66L1066.24 1175.24"/>
<path stroke-width="0.717" d="M783.57 1195.11L786.04 1183.28M788.5 1204.77L790.97 1192.75L793.43 1180.15M795.9 1189.24L798.37 1168.6L800.83 1182.61M808.23 1166.04L810.7 1181.48M813.16 1191.33L815.63 1174.94M825.49 1172.1L827.96 1186.02M847.69 1171.44L850.15 1185.64M860.02 1183.56L862.48 1169.83M867.41 1169.87L869.88 1183.31L872.35 1170.53M889.61 1197.33L892.07 1178.2M894.54 1176.97L897.01 1163.43L899.47 1151.59M929.06 1139.75L931.53 1126.31M938.93 1171.29L941.39 1155.57M963.59 1137.08L966.05 1150.62M985.78 1140.21L988.25 1158.39M1025.24 1154.89L1027.7 1141.63M1035.1 1190.11L1037.57 1174.96M1057.3 1187.94L1059.76 1167.1M1064.69 1168.81L1067.16 1155.36M1077.02 1184.53L1079.49 1184.91L1081.96 1168.81M1086.89 1174.02L1089.35 1156.59M1116.48 1173.35L1118.95 1184.81L1121.41 1165.49M1141.14 1185L1143.61 1172.78M1148.54 1164.07L1151 1179.41M771.24 1185.32L776.24 1184.4L781.24 1183.52L786.24 1182.65L791.24 1181.81L796.24 1181L801.24 1180.21L806.24 1179.45L811.24 1178.72L816.24 1178.01L821.24 1177.32L826.24 1176.66L831.24 1176.03L836.24 1175.42M1066.24 1175.24L1071.24 1175.83L1076.24 1176.46L1081.24 1177.11L1086.24 1177.79L1091.24 1178.49L1096.24 1179.21L1101.24 1179.97L1106.24 1180.75L1111.24 1181.55L1116.24 1182.38L1121.24 1183.24L1126.24 1184.12L1131.24 1185.03L1136.24 1185.96L1141.24 1186.92L1146.24 1187.9L1151.24 1188.91L1155.99 1189.89"/>
<path stroke-width="0.818" d="M778.64 1158.94L781.1 1166.89M793.43 1180.15L795.9 1189.24M810.7 1181.48L813.16 1191.33M835.36 1196.53L837.82 1205.44M840.29 1164.81L842.75 1156.29M845.22 1161.31L847.69 1171.44M882.21 1176.5L884.68 1185.97M906.87 1111.06L909.34 1120.34M911.8 1124.79L914.27 1133.12M943.86 1159.92L946.33 1149.98M970.99 1122.22L973.45 1122.97M1040.03 1171.17L1042.5 1179.98M1072.09 1187.75L1074.56 1176.86L1077.02 1184.53M1114.01 1163.41L1116.48 1173.35M1121.41 1165.49L1123.88 1155.36M1138.67 1175.72L1141.14 1185M1143.61 1172.78L1146.07 1161.99M1151 1179.41L1153.47 1189.73"/>
<path stroke-width="0.918" d="M773.71 1201.27L776.17 1194.17M805.76 1160.08L808.23 1166.04M815.63 1174.94L818.09 1180.25M842.75 1156.29L845.22 1161.31M872.35 1170.53L874.81 1176.97M892.07 1178.2L894.54 1176.97M901.94 1147.05L904.4 1153.58M934 1152.54L936.46 1145.44M951.26 1170.06L953.72 1175.83M973.45 1122.97L975.92 1121.93M993.18 1153.47L995.65 1159.62M1005.51 1154.6L1007.98 1160.76L1010.44 1153.94M1012.91 1152.05L1015.37 1157.16M1089.35 1156.59L1091.82 1155.64M1126.34 1158.48L1128.81 1164.83M1131.28 1162.94L1133.74 1169.28L1136.21 1174.58L1138.67 1175.72"/>
<path stroke-width="0.960" d="M850.15 1185.64L852.62 1188.01M857.55 1181.38L860.02 1183.56M874.81 1176.97L877.28 1174.6L879.74 1172.9L882.21 1176.5M899.47 1151.59L901.94 1147.05M909.34 1120.34L911.8 1124.79M914.27 1133.12L916.73 1129.81M941.39 1155.57L943.86 1159.92M978.38 1143.24L980.85 1140.21L983.32 1143.71L985.78 1140.21M1010.44 1153.94L1012.91 1152.05M1015.37 1157.16L1017.84 1155.83L1020.31 1151.57L1022.77 1152.99L1025.24 1154.89M1037.57 1174.96L1040.03 1171.17M1059.76 1167.1L1062.23 1171.46L1064.69 1168.81M1067.16 1155.36L1069.63 1158.67M1094.29 1179.03L1096.75 1174.49L1099.22 1178.28L1101.68 1179.79M1104.15 1158.2L1106.62 1162.18M1109.08 1187.08L1111.55 1184.43M1123.88 1155.36L1126.34 1158.48M1128.81 1164.83L1131.28 1162.94M1146.07 1161.99L1148.54 1164.07"/></g>
<g stroke-linecap="round"><path stroke-linecap="butt" stroke-width="0.550" d="M202.5 60.59V95.6M224.5 68.93V67.26M230.91 60.5H237.53M244.5 67.26V70.59M222.64 95.5H245.81M269 60.59V95.6M302 60.59V95.6M322 75.6V80.6M331.87 95.5H335.18M345 80.6V75.6M335.18 60.5H331.87M356.5 65.59V68.93M378.5 83.93V88.93M369.94 95.5H363.31M355 88.93V83.93M376.5 68.93V65.59M369.94 60.5H363.31M389.5 65.59V68.93M411.5 83.93V88.93M403.03 95.5H396.41M388.5 88.93V83.93M409.5 68.93V65.59M403.03 60.5H396.41M424.55 60.5H442.75M432.82 74H437.79M444.5 82.26V85.6M434.48 95.5H429.51M457.65 60.5H475.86M465.93 74H470.89M477.5 82.26V85.6M467.58 95.5H462.62M487.44 84H512.26M504 60.59V95.6M540.4 60.5H523.85M528.82 72.5H533.78M543.5 82.26V85.6M533.78 95.5H528.82M265.5 683.47V682.14M271.03 676.5H276.37M281.5 682.14V684.81M264.35 704.5H283.04M301.5 676.81V704.8M317.5 688.8V692.8M325.76 704.5H328.43M336.5 692.8V688.8M328.43 676.5H325.76M390.6 695.5H410.63M404 676.81V704.8M418.5 683.47V682.14M423.98 676.5H429.32M434.5 682.14V684.81M417.3 704.5H435.99M444 688.8V692.8M452.01 704.5H454.68M462.5 692.8V688.8M454.68 676.5H452.01M528.87 676.5H526.2M518.5 688.8V695.47M526.2 704.5H527.53M535.5 696.8V695.47M527.53 687.5H526.2M546.23 676.5H560.91M552.9 687.5H556.9M562.5 694.14V696.8M554.24 704.5H550.23M570.5 688.8V692.8M578.26 704.5H580.94M589 692.8V688.8M580.94 676.5H578.26M188.5 728.91V751.57M192.51 757H195.16M184.55 738.5H193.84M203 743.05V748.62M229.65 738.5H225.67M235 751.57V752.9M229.65 757H225.67M252.5 743.05V748.62M262.8 745H286.68M319.84 729H334.42M326.47 739.5H330.45M335.5 746.24V748.9M327.79 757H323.81M343.71 729H362.28M370.23 747.5H390.13M383.5 728.91V756.9M407.5 728.91V756.9M423.5 740.9V744.9M431.24 757H433.9M441.5 744.9V740.9M433.9 729H431.24M451.5 732.91V735.57M468.5 747.57V751.57M461.75 757H456.44M449.5 751.57V747.57M467 735.57V732.91M461.75 729H456.44M488.28 729H485.62M477.5 740.9V747.57M485.62 757H486.95M495 748.9V747.57M486.95 739.5H485.62M504.5 735.57V734.24M509.5 729H514.8M520 734.24V736.9M502.86 757H521.43M529.39 747.5H549.29M542.5 728.91V756.9M86 119.5H104.69M112.5 131.3V135.3M120.72 147.5H123.38M131.5 135.3V131.3M123.38 119.5H120.72M139.5 131.3V135.3M147.41 147.5H150.08M158 135.3V131.3M150.08 119.5H147.41M98.02 238.5H95.35M87.5 250.4V257.07M95.35 266.5H96.69M104.5 258.4V257.07M96.69 249H95.35M112.5 250.4V254.4M120.72 266.5H123.38M131.5 254.4V250.4M123.38 238.5H120.72M139.5 250.4V254.4M147.41 266.5H150.08M158 254.4V250.4M150.08 238.5H147.41M102.03 370H88.67M92.68 379.5H96.69M104.5 387.24V389.9M96.69 398H92.68M112.5 381.9V385.9M120.72 398H123.38M131.5 385.9V381.9M123.38 370H120.72M139.5 381.9V385.9M147.41 398H150.08M158 385.9V381.9M150.08 370H147.41M86 520H106.03M99.5 501.41V529.4M112.5 513.4V517.4M120.72 529.5H123.38M131.5 517.4V513.4M123.38 501.5H120.72M139.5 513.4V517.4M147.41 529.5H150.08M158 517.4V513.4M150.08 501.5H147.41M88.67 617.5H103.36M95.35 628H99.36M104.5 634.74V637.4M96.69 645.5H92.68M112.5 629.4V633.4M120.72 645.5H123.38M131.5 633.4V629.4M123.38 617.5H120.72M139.5 629.4V633.4M147.41 645.5H150.08M158 633.4V629.4M150.08 617.5H147.41M18.41 639H46.4M18.5 638.9V626.97M23.74 620.5H26.41M31.5 626.97V638.9M27.74 596.5H46.4M27.5 601.78V605.75M35.74 612.5H38.4M46.5 605.75V601.78M18.41 584.5H41.07M46.5 580.57V577.92M27.5 588.52V579.24M35.5 571.29V555.38M35.74 555.5H33.07M27.5 560.68V564.66M35.74 571.5H38.4M46.5 564.66V560.68M32.55 525H38.12M27.5 497.05V501.02M35.74 507.5H38.4M46.5 501.02V497.05M27.5 445.35V449.32M41.07 440H42.4M46.5 445.35V449.32M27.5 387.01V390.99M35.74 397.5H38.4M46.5 390.99V387.01M18.41 372.5H46.4M27.5 365.8V361.83M33.07 357.5H46.4M18.41 303.5H46.4M32.55 278.5H38.12M18.41 246.5H46.4M18.5 246.49V237.21M29.07 228H35.74M46.5 237.21V246.49M35.5 219.98V204.07M35.74 204H33.07M27.5 209.37V213.35M35.74 220H38.4M46.5 213.35V209.37M18.41 193.5H41.07M46.5 189.48V186.83M27.5 197.44V188.16M30.4 145.5H34.4M46.5 137.78V135.13M34.4 127.5H30.4M18.5 135.13V137.78M241.5 191.1V195.1M245.84 199H248.49M249.81 180.5H252.46M260.39 199H261.72M270.98 183H294.8M270.98 191H294.8M326.5 177.77V176.44M331.85 171H337.14M342.5 176.44V179.1M325.23 199H343.76M360.96 188.5H359.63M351.5 180.44V179.1M359.63 171H360.96M369 180.44V187.1M360.96 199H358.31M402 171.11V199.1M798 60.59V95.6M819.5 68.93V67.26M826.16 60.5H832.78M839.5 67.26V70.59M817.88 95.5H841.05M864.5 60.59V95.6M897.5 60.59V95.6M917.5 75.6V80.6M927.11 95.5H930.42M940.5 80.6V75.6M930.42 60.5H927.11M952 65.59V68.93M973.5 83.93V88.93M965.18 95.5H958.56M950.5 88.93V83.93M971.5 68.93V65.59M965.18 60.5H958.56M985 65.59V68.93M1006.5 83.93V88.93M998.28 95.5H991.66M983.5 88.93V83.93M1005 68.93V65.59M998.28 60.5H991.66M1019.79 60.5H1038M1028.07 74H1033.03M1039.5 82.26V85.6M1029.72 95.5H1024.76M1052.89 60.5H1071.1M1061.16 74H1066.13M1072.5 82.26V85.6M1062.82 95.5H1057.86M1082.68 84H1107.51M1099.5 60.59V95.6M1135.64 60.5H1119.09M1124.06 72.5H1129.02M1139 82.26V85.6M1129.02 95.5H1124.06M861 683.47V682.14M866.27 676.5H871.61M877 682.14V684.81M859.6 704.5H878.29M897 676.81V704.8M913 688.8V692.8M921 704.5H923.68M931.5 692.8V688.8M923.68 676.5H921M985.85 695.5H1005.87M999.5 676.81V704.8M1014 683.47V682.14M1019.22 676.5H1024.56M1030 682.14V684.81M1012.55 704.5H1031.24M1039.5 688.8V692.8M1047.26 704.5H1049.92M1058 692.8V688.8M1049.92 676.5H1047.26M1124.11 676.5H1121.44M1113.5 688.8V695.47M1121.44 704.5H1122.78M1130.5 696.8V695.47M1122.78 687.5H1121.44M1141.47 676.5H1156.15M1148.14 687.5H1152.15M1157.5 694.14V696.8M1149.48 704.5H1145.47M1165.5 688.8V692.8M1173.51 704.5H1176.18M1184.5 692.8V688.8M1176.18 676.5H1173.51M783.5 728.91V751.57M787.75 757H790.4M779.79 738.5H789.08M798.5 743.05V748.62M824.89 738.5H820.91M830.5 751.57V752.9M824.89 757H820.91M847.5 743.05V748.62M858.04 745H881.92M915.08 729H929.66M921.71 739.5H925.69M931 746.24V748.9M923.03 757H919.05M938.95 729H957.52M965.47 747.5H985.37M978.5 728.91V756.9M1002.5 728.91V756.9M1018.5 740.9V744.9M1026.48 757H1029.14M1037 744.9V740.9M1029.14 729H1026.48M1046.5 732.91V735.57M1063.5 747.57V751.57M1056.99 757H1051.68M1045 751.57V747.57M1062.5 735.57V732.91M1056.99 729H1051.68M1083.52 729H1080.86M1073 740.9V747.57M1080.86 757H1082.19M1090.5 748.9V747.57M1082.19 739.5H1080.86M1099.5 735.57V734.24M1104.74 729H1110.04M1115.5 734.24V736.9M1098.1 757H1116.67M1124.63 747.5H1144.53M1138 728.91V756.9M681.25 119.5H699.94M708 131.3V135.3M715.96 147.5H718.62M726.5 135.3V131.3M718.62 119.5H715.96M734.5 131.3V135.3M742.65 147.5H745.33M753.5 135.3V131.3M745.33 119.5H742.65M693.26 238.5H690.59M682.5 250.4V257.07M690.59 266.5H691.92M700 258.4V257.07M691.92 249H690.59M708 250.4V254.4M715.96 266.5H718.62M726.5 254.4V250.4M718.62 238.5H715.96M734.5 250.4V254.4M742.65 266.5H745.33M753.5 254.4V250.4M745.33 238.5H742.65M697.26 370H683.91M687.92 379.5H691.92M700 387.24V389.9M691.92 398H687.92M708 381.9V385.9M715.96 398H718.62M726.5 385.9V381.9M718.62 370H715.96M734.5 381.9V385.9M742.65 398H745.33M753.5 385.9V381.9M745.33 370H742.65M681.25 520H701.27M694.5 501.41V529.4M708 513.4V517.4M715.96 529.5H718.62M726.5 517.4V513.4M718.62 501.5H715.96M734.5 513.4V517.4M742.65 529.5H745.33M753.5 517.4V513.4M745.33 501.5H742.65M683.91 617.5H698.6M690.59 628H694.6M700 634.74V637.4M691.92 645.5H687.92M708 629.4V633.4M715.96 645.5H718.62M726.5 633.4V629.4M718.62 617.5H715.96M734.5 629.4V633.4M742.65 645.5H745.33M753.5 633.4V629.4M745.33 617.5H742.65M613.65 639H641.64M613.5 638.9V626.97M618.98 620.5H621.64M627 626.97V638.9M622.98 596.5H641.64M623 601.78V605.75M630.98 612.5H633.64M641.5 605.75V601.78M613.65 584.5H636.31M641.5 580.57V577.92M623 588.52V579.24M631 571.29V555.38M630.98 555.5H628.31M623 560.68V564.66M630.98 571.5H633.64M641.5 564.66V560.68M627.79 525H633.36M623 497.05V501.02M630.98 507.5H633.64M641.5 501.02V497.05M623 445.35V449.32M636.31 440H637.64M641.5 445.35V449.32M623 387.01V390.99M630.98 397.5H633.64M641.5 390.99V387.01M613.65 372.5H641.64M623 365.8V361.83M628.31 357.5H641.64M613.65 303.5H641.64M627.79 278.5H633.36M613.65 246.5H641.64M613.5 246.49V237.21M624.31 228H630.98M641.5 237.21V246.49M631 219.98V204.07M630.98 204H628.31M623 209.37V213.35M630.98 220H633.64M641.5 213.35V209.37M613.65 193.5H636.31M641.5 189.48V186.83M623 197.44V188.16M613.65 135.5H641.64M837 191.1V195.1M841.08 199H843.73M845.05 180.5H847.7M855.63 199H856.96M866.22 183H890.04M866.22 191H890.04M923.12 171H937.67M929.73 181.5H933.7M939 188.44V191.1M931.06 199H927.09M957.5 171.11V199.1M986.63 171H1005.16M202.5 826.01V861.02M224.5 834.35V832.68M230.91 826H237.53M244.5 832.68V836.01M222.64 861H245.81M269 826.01V861.02M302 826.01V861.02M322 841.02V846.02M331.87 861H335.18M345 846.02V841.02M335.18 826H331.87M356.5 831.01V834.35M378.5 849.35V854.35M369.94 861H363.31M355 854.35V849.35M376.5 834.35V831.01M369.94 826H363.31M389.5 831.01V834.35M411.5 849.35V854.35M403.03 861H396.41M388.5 854.35V849.35M409.5 834.35V831.01M403.03 826H396.41M424.55 826H442.75M432.82 839.5H437.79M444.5 847.68V851.02M434.48 861H429.51M457.65 826H475.86M465.93 839.5H470.89M477.5 847.68V851.02M467.58 861H462.62M487.44 849.5H512.26M504 826.01V861.02M540.4 826H523.85M528.82 837.5H533.78M543.5 847.68V851.02M533.78 861H528.82M265.5 1448.89V1447.56M271.03 1442.5H276.37M281.5 1447.56V1450.23M264.35 1470.5H283.04M301.5 1442.23V1470.22M317.5 1454.22V1458.22M325.76 1470.5H328.43M336.5 1458.22V1454.22M328.43 1442.5H325.76M390.6 1461H410.63M404 1442.23V1470.22M418.5 1448.89V1447.56M423.98 1442.5H429.32M434.5 1447.56V1450.23M417.3 1470.5H435.99M444 1454.22V1458.22M452.01 1470.5H454.68M462.5 1458.22V1454.22M454.68 1442.5H452.01M528.87 1442.5H526.2M518.5 1454.22V1460.89M526.2 1470.5H527.53M535.5 1462.22V1460.89M527.53 1453H526.2M546.23 1442.5H560.91M552.9 1453H556.9M562.5 1459.56V1462.22M554.24 1470.5H550.23M570.5 1454.22V1458.22M578.26 1470.5H580.94M589 1458.22V1454.22M580.94 1442.5H578.26M188.5 1494.33V1516.99M192.51 1522.5H195.16M184.55 1503.5H193.84M203 1508.47V1514.04M229.65 1503.5H225.67M235 1516.99V1518.32M229.65 1522.5H225.67M252.5 1508.47V1514.04M262.8 1510.5H286.68M319.84 1494.5H334.42M326.47 1505H330.45M335.5 1511.66V1514.32M327.79 1522.5H323.81M343.71 1494.5H362.28M370.23 1513H390.13M383.5 1494.33V1522.32M407.5 1494.33V1522.32M423.5 1506.32V1510.32M431.24 1522.5H433.9M441.5 1510.32V1506.32M433.9 1494.5H431.24M451.5 1498.33V1500.99M468.5 1512.99V1516.99M461.75 1522.5H456.44M449.5 1516.99V1512.99M467 1500.99V1498.33M461.75 1494.5H456.44M488.28 1494.5H485.62M477.5 1506.32V1512.99M485.62 1522.5H486.95M495 1514.32V1512.99M486.95 1505H485.62M504.5 1500.99V1499.66M509.5 1494.5H514.8M520 1499.66V1502.33M502.86 1522.5H521.43M529.39 1513H549.29M542.5 1494.33V1522.32M98.02 884.5H95.35M87.5 896.72V903.39M95.35 912.5H96.69M104.5 904.72V903.39M96.69 895.5H95.35M112.5 896.72V900.72M120.72 912.5H123.38M131.5 900.72V896.72M123.38 884.5H120.72M139.5 896.72V900.72M147.41 912.5H150.08M158 900.72V896.72M150.08 884.5H147.41M102.03 1003.5H88.67M92.68 1013.5H96.69M104.5 1021.16V1023.82M96.69 1031.5H92.68M112.5 1015.82V1019.82M120.72 1031.5H123.38M131.5 1019.82V1015.82M123.38 1003.5H120.72M139.5 1015.82V1019.82M147.41 1031.5H150.08M158 1019.82V1015.82M150.08 1003.5H147.41M86 1154H106.03M99.5 1135.33V1163.32M112.5 1147.32V1151.32M120.72 1163.5H123.38M131.5 1151.32V1147.32M123.38 1135.5H120.72M139.5 1147.32V1151.32M147.41 1163.5H150.08M158 1151.32V1147.32M150.08 1135.5H147.41M88.67 1266.5H103.36M95.35 1277.5H99.36M104.5 1284.16V1286.82M96.69 1294.5H92.68M112.5 1278.82V1282.82M120.72 1294.5H123.38M131.5 1282.82V1278.82M123.38 1266.5H120.72M139.5 1278.82V1282.82M147.41 1294.5H150.08M158 1282.82V1278.82M150.08 1266.5H147.41M87.5 1389.49V1388.16M92.68 1382.5H98.02M103.5 1388.16V1390.83M86 1410.5H104.69M112.5 1394.82V1398.82M120.72 1410.5H123.38M131.5 1398.82V1394.82M123.38 1382.5H120.72M139.5 1394.82V1398.82M147.41 1410.5H150.08M158 1398.82V1394.82M150.08 1382.5H147.41M18.41 1404.5H46.4M18.5 1404.32V1392.39M23.74 1385.5H26.41M31.5 1392.39V1404.32M27.74 1362H46.4M27.5 1367.2V1371.17M35.74 1377.5H38.4M46.5 1371.17V1367.2M18.41 1350H41.07M46.5 1345.99V1343.33M27.5 1353.94V1344.66M35.5 1336.71V1320.8M35.74 1320.5H33.07M27.5 1326.1V1330.08M35.74 1336.5H38.4M46.5 1330.08V1326.1M32.55 1290.5H38.12M27.5 1262.47V1266.44M35.74 1273H38.4M46.5 1266.44V1262.47M27.5 1210.76V1214.74M41.07 1205.5H42.4M46.5 1210.76V1214.74M27.5 1152.43V1156.41M35.74 1163H38.4M46.5 1156.41V1152.43M18.41 1137.5H46.4M27.5 1131.22V1127.25M33.07 1123.5H46.4M18.41 1069H46.4M32.55 1043.5H38.12M18.41 1012H46.4M18.5 1011.91V1002.63M29.07 993.5H35.74M46.5 1002.63V1011.91M35.5 985.4V969.49M35.74 969.5H33.07M27.5 974.79V978.77M35.74 985.5H38.4M46.5 978.77V974.79M18.41 959H41.07M46.5 954.9V952.25M27.5 962.86V953.58M35.5 901.88V903.2M27.74 911.5H26.41M18.5 903.2V901.88M27.74 894H34.4M46.5 901.88V904.53M241.5 956.52V960.52M245.84 964.5H248.49M249.81 945.5H252.46M260.39 964.5H261.72M270.98 948.5H294.8M270.98 956.5H294.8M326.5 943.19V941.86M331.85 936.5H337.14M342.5 941.86V944.52M325.23 964.5H343.76M360.96 953.5H359.63M351.5 945.86V944.52M359.63 936.5H360.96M369 945.86V952.52M360.96 964.5H358.31M391.39 955.5H411.24M404.5 936.53V964.52M798 826.01V861.02M819.5 834.35V832.68M826.16 826H832.78M839.5 832.68V836.01M817.88 861H841.05M864.5 826.01V861.02M897.5 826.01V861.02M917.5 841.02V846.02M927.11 861H930.42M940.5 846.02V841.02M930.42 826H927.11M952 831.01V834.35M973.5 849.35V854.35M965.18 861H958.56M950.5 854.35V849.35M971.5 834.35V831.01M965.18 826H958.56M985 831.01V834.35M1006.5 849.35V854.35M998.28 861H991.66M983.5 854.35V849.35M1005 834.35V831.01M998.28 826H991.66M1019.79 826H1038M1028.07 839.5H1033.03M1039.5 847.68V851.02M1029.72 861H1024.76M1052.89 826H1071.1M1061.16 839.5H1066.13M1072.5 847.68V851.02M1062.82 861H1057.86M1082.68 849.5H1107.51M1099.5 826.01V861.02M1135.64 826H1119.09M1124.06 837.5H1129.02M1139 847.68V851.02M1129.02 861H1124.06M861 1448.89V1447.56M866.27 1442.5H871.61M877 1447.56V1450.23M859.6 1470.5H878.29M897 1442.23V1470.22M913 1454.22V1458.22M921 1470.5H923.68M931.5 1458.22V1454.22M923.68 1442.5H921M985.85 1461H1005.87M999.5 1442.23V1470.22M1014 1448.89V1447.56M1019.22 1442.5H1024.56M1030 1447.56V1450.23M1012.55 1470.5H1031.24M1039.5 1454.22V1458.22M1047.26 1470.5H1049.92M1058 1458.22V1454.22M1049.92 1442.5H1047.26M1124.11 1442.5H1121.44M1113.5 1454.22V1460.89M1121.44 1470.5H1122.78M1130.5 1462.22V1460.89M1122.78 1453H1121.44M1141.47 1442.5H1156.15M1148.14 1453H1152.15M1157.5 1459.56V1462.22M1149.48 1470.5H1145.47M1165.5 1454.22V1458.22M1173.51 1470.5H1176.18M1184.5 1458.22V1454.22M1176.18 1442.5H1173.51M783.5 1494.33V1516.99M787.75 1522.5H790.4M779.79 1503.5H789.08M798.5 1508.47V1514.04M824.89 1503.5H820.91M830.5 1516.99V1518.32M824.89 1522.5H820.91M847.5 1508.47V1514.04M858.04 1510.5H881.92M915.08 1494.5H929.66M921.71 1505H925.69M931 1511.66V1514.32M923.03 1522.5H919.05M938.95 1494.5H957.52M965.47 1513H985.37M978.5 1494.33V1522.32M1002.5 1494.33V1522.32M1018.5 1506.32V1510.32M1026.48 1522.5H1029.14M1037 1510.32V1506.32M1029.14 1494.5H1026.48M1046.5 1498.33V1500.99M1063.5 1512.99V1516.99M1056.99 1522.5H1051.68M1045 1516.99V1512.99M1062.5 1500.99V1498.33M1056.99 1494.5H1051.68M1083.52 1494.5H1080.86M1073 1506.32V1512.99M1080.86 1522.5H1082.19M1090.5 1514.32V1512.99M1082.19 1505H1080.86M1099.5 1500.99V1499.66M1104.74 1494.5H1110.04M1115.5 1499.66V1502.33M1098.1 1522.5H1116.67M1124.63 1513H1144.53M1138 1494.33V1522.32M681.25 903.5H701.27M694.5 884.73V912.72M723.97 884.5H710.62M714.62 894H718.62M726.5 902.06V904.72M718.62 912.5H714.62M734.5 896.72V900.72M742.65 912.5H745.33M753.5 900.72V896.72M745.33 884.5H742.65M681.25 978.5H701.27M694.5 959.99V987.99M708 971.99V975.99M715.96 988H718.62M726.5 975.99V971.99M718.62 960H715.96M734.5 971.99V975.99M742.65 988H745.33M753.5 975.99V971.99M745.33 960H742.65M683.91 1047.5H698.6M690.59 1058.5H694.6M700 1064.99V1067.66M691.92 1075.5H687.92M723.97 1047.5H710.62M714.62 1057H718.62M726.5 1064.99V1067.66M718.62 1075.5H714.62M734.5 1059.66V1063.66M742.65 1075.5H745.33M753.5 1063.66V1059.66M745.33 1047.5H742.65M683.91 1135.5H698.6M690.59 1146H694.6M700 1152.66V1155.32M691.92 1163.5H687.92M708 1147.32V1151.32M715.96 1163.5H718.62M726.5 1151.32V1147.32M718.62 1135.5H715.96M734.5 1147.32V1151.32M742.65 1163.5H745.33M753.5 1151.32V1147.32M745.33 1135.5H742.65M682.5 1229.66V1228.33M687.92 1223H693.26M698.5 1228.33V1230.99M681.25 1251H699.94M723.97 1223H710.62M714.62 1232.5H718.62M726.5 1240.32V1242.99M718.62 1251H714.62M734.5 1234.99V1238.99M742.65 1251H745.33M753.5 1238.99V1234.99M745.33 1223H742.65M682.5 1317.33V1315.99M687.92 1310.5H693.26M698.5 1315.99V1318.66M681.25 1338.5H699.94M708 1322.66V1326.66M715.96 1338.5H718.62M726.5 1326.66V1322.66M718.62 1310.5H715.96M734.5 1322.66V1326.66M742.65 1338.5H745.33M753.5 1326.66V1322.66M745.33 1310.5H742.65M692 1382.83V1410.82M723.97 1382.5H710.62M714.62 1392.5H718.62M726.5 1400.16V1402.82M718.62 1410.5H714.62M734.5 1394.82V1398.82M742.65 1410.5H745.33M753.5 1398.82V1394.82M745.33 1382.5H742.65M613.65 1404.5H641.64M613.5 1404.32V1392.39M618.98 1385.5H621.64M627 1392.39V1404.32M622.98 1362H641.64M623 1367.2V1371.17M630.98 1377.5H633.64M641.5 1371.17V1367.2M613.65 1350H636.31M641.5 1345.99V1343.33M623 1353.94V1344.66M631 1336.71V1320.8M630.98 1320.5H628.31M623 1326.1V1330.08M630.98 1336.5H633.64M641.5 1330.08V1326.1M627.79 1290.5H633.36M623 1262.47V1266.44M630.98 1273H633.64M641.5 1266.44V1262.47M623 1210.76V1214.74M636.31 1205.5H637.64M641.5 1210.76V1214.74M623 1152.43V1156.41M630.98 1163H633.64M641.5 1156.41V1152.43M613.65 1137.5H641.64M623 1131.22V1127.25M628.31 1123.5H641.64M613.65 1069H641.64M627.79 1043.5H633.36M613.65 1012H641.64M613.5 1011.91V1002.63M624.31 993.5H630.98M641.5 1002.63V1011.91M631 985.4V969.49M630.98 969.5H628.31M623 974.79V978.77M630.98 985.5H633.64M641.5 978.77V974.79M613.65 959H636.31M641.5 954.9V952.25M623 962.86V953.58M613.5 899.23V901.88M625.64 909.5H632.31M641.5 901.88V900.55M633.64 892.5H632.31M624.5 900.55V901.88M837 956.52V960.52M841.08 964.5H843.73M845.05 945.5H847.7M855.63 964.5H856.96M866.22 948.5H890.04M866.22 956.5H890.04M936.35 936.5H923.12M927.09 945.5H931.06M939 953.86V956.52M931.06 964.5H927.09M962.81 936.5H949.58M953.55 945.5H957.52M965.5 953.86V956.52M957.52 964.5H953.55M1002.51 936.5H989.28M993.25 945.5H997.22M1005.5 953.86V956.52M997.22 964.5H993.25"/>
<path fill="#000" fill-opacity="0.35" stroke-width="0.9" d="M27.47 429.44L29.07 431.03L30.67 429.44L29.07 427.85ZM43.47 345.92L45.07 347.51L46.67 345.92L45.07 344.33ZM27.47 177.55L29.07 179.14L30.67 177.55L29.07 175.96ZM43.47 177.55L45.07 179.14L46.67 177.55L45.07 175.96ZM380.81 196.17L379.22 197.77L380.81 199.37L382.39 197.77ZM622.71 429.44L624.31 431.03L625.91 429.44L624.31 427.85ZM638.71 345.92L640.31 347.51L641.91 345.92L640.31 344.33ZM622.71 177.55L624.31 179.14L625.91 177.55L624.31 175.96ZM638.71 177.55L640.31 179.14L641.91 177.55L640.31 175.96ZM976.05 196.17L974.46 197.77L976.05 199.37L977.63 197.77ZM27.47 1194.86L29.07 1196.45L30.67 1194.86L29.07 1193.27ZM43.47 1111.34L45.07 1112.93L46.67 1111.34L45.07 1109.75ZM27.47 942.97L29.07 944.56L30.67 942.97L29.07 941.38ZM43.47 942.97L45.07 944.56L46.67 942.97L45.07 941.38ZM380.81 961.59L379.22 963.19L380.81 964.79L382.39 963.19ZM622.71 1194.86L624.31 1196.45L625.91 1194.86L624.31 1193.27ZM638.71 1111.34L640.31 1112.93L641.91 1111.34L640.31 1109.75ZM622.71 942.97L624.31 944.56L625.91 942.97L624.31 941.38ZM638.71 942.97L640.31 944.56L641.91 942.97L640.31 941.38ZM976.05 961.59L974.46 963.19L976.05 964.79L977.63 963.19Z"/>
<path stroke-width="0.618" d="M523.85 60.59L522.19 75.6M88.67 369.91L87.34 381.9M45.07 427.85L47.73 428.11M1119.09 60.59L1117.43 75.6M683.91 369.91L682.58 381.9M640.31 427.85L642.97 428.11M523.85 826.01L522.19 841.02M88.67 1003.83L87.34 1015.82M45.07 1193.27L47.73 1193.53M1119.09 826.01L1117.43 841.02M710.62 884.73L709.28 896.72M710.62 1047.66L709.28 1059.66M710.62 1222.99L709.28 1234.99M710.62 1382.83L709.28 1394.82M640.31 1193.27L642.97 1193.53M923.12 936.53L921.79 948.52M949.58 936.53L948.26 948.52M989.28 936.53L987.95 948.52"/>
<path stroke-width="0.717" d="M323.6 67.26L321.94 75.6M321.94 80.6L323.6 88.93M343.45 88.93L345.11 80.6M345.11 75.6L343.45 67.26M319.09 682.14L317.75 688.8M317.75 692.8L319.09 699.47M335.11 699.47L336.44 692.8M336.44 688.8L335.11 682.14M445.34 682.14L444 688.8M444 692.8L445.34 699.47M461.36 699.47L462.69 692.8M462.69 688.8L461.36 682.14M519.52 682.14L518.19 688.8M571.59 682.14L570.25 688.8M570.25 692.8L571.59 699.47M587.61 699.47L588.95 692.8M588.95 688.8L587.61 682.14M204.45 736.09L203.12 743.05M203.12 748.62L204.45 755.59M224.34 746.24L230.97 747.57M250.87 736.09L252.19 743.05M252.19 748.62L250.87 755.59M424.61 734.24L423.29 740.9M423.29 744.9L424.61 751.57M440.53 751.57L441.85 744.9M441.85 740.9L440.53 734.24M478.99 734.24L477.66 740.9M114.04 124.64L112.7 131.3M112.7 135.3L114.04 141.97M130.06 141.97L131.39 135.3M131.39 131.3L130.06 124.64M140.74 124.64L139.41 131.3M139.41 135.3L140.74 141.97M156.76 141.97L158.09 135.3M158.09 131.3L156.76 124.64M88.67 243.74L87.34 250.4M114.04 243.74L112.7 250.4M112.7 254.4L114.04 261.07M130.06 261.07L131.39 254.4M131.39 250.4L130.06 243.74M140.74 243.74L139.41 250.4M139.41 254.4L140.74 261.07M156.76 261.07L158.09 254.4M158.09 250.4L156.76 243.74M114.04 375.24L112.7 381.9M112.7 385.9L114.04 392.57M130.06 392.57L131.39 385.9M131.39 381.9L130.06 375.24M140.74 375.24L139.41 381.9M139.41 385.9L140.74 392.57M156.76 392.57L158.09 385.9M158.09 381.9L156.76 375.24M114.04 506.74L112.7 513.4M112.7 517.4L114.04 524.07M130.06 524.07L131.39 517.4M131.39 513.4L130.06 506.74M140.74 506.74L139.41 513.4M139.41 517.4L140.74 524.07M156.76 524.07L158.09 517.4M158.09 513.4L156.76 506.74M114.04 622.74L112.7 629.4M112.7 633.4L114.04 640.07M130.06 640.07L131.39 633.4M131.39 629.4L130.06 622.74M140.74 622.74L139.41 629.4M139.41 633.4L140.74 640.07M156.76 640.07L158.09 633.4M158.09 629.4L156.76 622.74M25.59 523.56L32.55 524.89M38.12 524.89L45.09 523.56M35.74 450.65L37.07 444.02M25.59 279.63L32.55 278.31M38.12 278.31L45.09 279.63M23.74 144.41L30.4 145.74M34.4 145.74L41.07 144.41M41.07 128.5L34.4 127.18M30.4 127.18L23.74 128.5M368.9 187.1L367.57 193.77M427.69 173.2L427.49 174.69M423.42 178.75L421.94 178.95L420.45 178.75M416.38 174.69L416.19 173.2L416.38 171.71M420.45 167.65L421.94 167.45L423.42 167.65M427.49 171.71L427.69 173.2M918.84 67.26L917.18 75.6M917.18 80.6L918.84 88.93M938.7 88.93L940.35 80.6M940.35 75.6L938.7 67.26M914.33 682.14L913 688.8M913 692.8L914.33 699.47M930.35 699.47L931.69 692.8M931.69 688.8L930.35 682.14M1040.58 682.14L1039.25 688.8M1039.25 692.8L1040.58 699.47M1056.6 699.47L1057.93 692.8M1057.93 688.8L1056.6 682.14M1114.77 682.14L1113.43 688.8M1166.83 682.14L1165.5 688.8M1165.5 692.8L1166.83 699.47M1182.85 699.47L1184.19 692.8M1184.19 688.8L1182.85 682.14M799.69 736.09L798.36 743.05M798.36 748.62L799.69 755.59M819.58 746.24L826.21 747.57M846.11 736.09L847.43 743.05M847.43 748.62L846.11 755.59M1019.85 734.24L1018.53 740.9M1018.53 744.9L1019.85 751.57M1035.77 751.57L1037.09 744.9M1037.09 740.9L1035.77 734.24M1074.23 734.24L1072.9 740.9M709.28 124.64L707.95 131.3M707.95 135.3L709.28 141.97M725.3 141.97L726.63 135.3M726.63 131.3L725.3 124.64M735.98 124.64L734.64 131.3M734.64 135.3L735.98 141.97M752 141.97L753.34 135.3M753.34 131.3L752 124.64M683.91 243.74L682.58 250.4M709.28 243.74L707.95 250.4M707.95 254.4L709.28 261.07M725.3 261.07L726.63 254.4M726.63 250.4L725.3 243.74M735.98 243.74L734.64 250.4M734.64 254.4L735.98 261.07M752 261.07L753.34 254.4M753.34 250.4L752 243.74M709.28 375.24L707.95 381.9M707.95 385.9L709.28 392.57M725.3 392.57L726.63 385.9M726.63 381.9L725.3 375.24M735.98 375.24L734.64 381.9M734.64 385.9L735.98 392.57M752 392.57L753.34 385.9M753.34 381.9L752 375.24M709.28 506.74L707.95 513.4M707.95 517.4L709.28 524.07M725.3 524.07L726.63 517.4M726.63 513.4L725.3 506.74M735.98 506.74L734.64 513.4M734.64 517.4L735.98 524.07M752 524.07L753.34 517.4M753.34 513.4L752 506.74M709.28 622.74L707.95 629.4M707.95 633.4L709.28 640.07M725.3 640.07L726.63 633.4M726.63 629.4L725.3 622.74M735.98 622.74L734.64 629.4M734.64 633.4L735.98 640.07M752 640.07L753.34 633.4M753.34 629.4L752 622.74M620.83 523.56L627.79 524.89M633.36 524.89L640.33 523.56M630.98 450.65L632.31 444.02M620.83 279.63L627.79 278.31M633.36 278.31L640.33 279.63M1022.93 173.2L1022.73 174.69M1018.66 178.75L1017.18 178.95L1015.69 178.75M1011.62 174.69L1011.43 173.2L1011.62 171.71M1015.69 167.65L1017.18 167.45L1018.66 167.65M1022.73 171.71L1022.93 173.2M323.6 832.68L321.94 841.02M321.94 846.02L323.6 854.35M343.45 854.35L345.11 846.02M345.11 841.02L343.45 832.68M319.09 1447.56L317.75 1454.22M317.75 1458.22L319.09 1464.89M335.11 1464.89L336.44 1458.22M336.44 1454.22L335.11 1447.56M445.34 1447.56L444 1454.22M444 1458.22L445.34 1464.89M461.36 1464.89L462.69 1458.22M462.69 1454.22L461.36 1447.56M519.52 1447.56L518.19 1454.22M571.59 1447.56L570.25 1454.22M570.25 1458.22L571.59 1464.89M587.61 1464.89L588.95 1458.22M588.95 1454.22L587.61 1447.56M204.45 1501.51L203.12 1508.47M203.12 1514.04L204.45 1521.01M224.34 1511.66L230.97 1512.99M250.87 1501.51L252.19 1508.47M252.19 1514.04L250.87 1521.01M424.61 1499.66L423.29 1506.32M423.29 1510.32L424.61 1516.99M440.53 1516.99L441.85 1510.32M441.85 1506.32L440.53 1499.66M478.99 1499.66L477.66 1506.32M88.67 890.06L87.34 896.72M114.04 890.06L112.7 896.72M112.7 900.72L114.04 907.39M130.06 907.39L131.39 900.72M131.39 896.72L130.06 890.06M140.74 890.06L139.41 896.72M139.41 900.72L140.74 907.39M156.76 907.39L158.09 900.72M158.09 896.72L156.76 890.06M114.04 1009.16L112.7 1015.82M112.7 1019.82L114.04 1026.49M130.06 1026.49L131.39 1019.82M131.39 1015.82L130.06 1009.16M140.74 1009.16L139.41 1015.82M139.41 1019.82L140.74 1026.49M156.76 1026.49L158.09 1019.82M158.09 1015.82L156.76 1009.16M114.04 1140.66L112.7 1147.32M112.7 1151.32L114.04 1157.99M130.06 1157.99L131.39 1151.32M131.39 1147.32L130.06 1140.66M140.74 1140.66L139.41 1147.32M139.41 1151.32L140.74 1157.99M156.76 1157.99L158.09 1151.32M158.09 1147.32L156.76 1140.66M114.04 1272.16L112.7 1278.82M112.7 1282.82L114.04 1289.49M130.06 1289.49L131.39 1282.82M131.39 1278.82L130.06 1272.16M140.74 1272.16L139.41 1278.82M139.41 1282.82L140.74 1289.49M156.76 1289.49L158.09 1282.82M158.09 1278.82L156.76 1272.16M114.04 1388.16L112.7 1394.82M112.7 1398.82L114.04 1405.49M130.06 1405.49L131.39 1398.82M131.39 1394.82L130.06 1388.16M140.74 1388.16L139.41 1394.82M139.41 1398.82L140.74 1405.49M156.76 1405.49L158.09 1398.82M158.09 1394.82L156.76 1388.16M25.59 1288.98L32.55 1290.31M38.12 1290.31L45.09 1288.98M35.74 1216.07L37.07 1209.44M25.59 1045.05L32.55 1043.73M38.12 1043.73L45.09 1045.05M34.4 893.92L41.07 895.25M368.9 952.52L367.57 959.19M427.69 938.62L427.49 940.11M423.42 944.17L421.94 944.37L420.45 944.17M416.38 940.11L416.19 938.62L416.38 937.13M420.45 933.07L421.94 932.87L423.42 933.07M427.49 937.13L427.69 938.62M918.84 832.68L917.18 841.02M917.18 846.02L918.84 854.35M938.7 854.35L940.35 846.02M940.35 841.02L938.7 832.68M914.33 1447.56L913 1454.22M913 1458.22L914.33 1464.89M930.35 1464.89L931.69 1458.22M931.69 1454.22L930.35 1447.56M1040.58 1447.56L1039.25 1454.22M1039.25 1458.22L1040.58 1464.89M1056.6 1464.89L1057.93 1458.22M1057.93 1454.22L1056.6 1447.56M1114.77 1447.56L1113.43 1454.22M1166.83 1447.56L1165.5 1454.22M1165.5 1458.22L1166.83 1464.89M1182.85 1464.89L1184.19 1458.22M1184.19 1454.22L1182.85 1447.56M799.69 1501.51L798.36 1508.47M798.36 1514.04L799.69 1521.01M819.58 1511.66L826.21 1512.99M846.11 1501.51L847.43 1508.47M847.43 1514.04L846.11 1521.01M1019.85 1499.66L1018.53 1506.32M1018.53 1510.32L1019.85 1516.99M1035.77 1516.99L1037.09 1510.32M1037.09 1506.32L1035.77 1499.66M1074.23 1499.66L1072.9 1506.32M735.98 890.06L734.64 896.72M734.64 900.72L735.98 907.39M752 907.39L753.34 900.72M753.34 896.72L752 890.06M709.28 965.33L707.95 971.99M707.95 975.99L709.28 982.65M725.3 982.65L726.63 975.99M726.63 971.99L725.3 965.33M735.98 965.33L734.64 971.99M734.64 975.99L735.98 982.65M752 982.65L753.34 975.99M753.34 971.99L752 965.33M735.98 1052.99L734.64 1059.66M734.64 1063.66L735.98 1070.32M752 1070.32L753.34 1063.66M753.34 1059.66L752 1052.99M709.28 1140.66L707.95 1147.32M707.95 1151.32L709.28 1157.99M725.3 1157.99L726.63 1151.32M726.63 1147.32L725.3 1140.66M735.98 1140.66L734.64 1147.32M734.64 1151.32L735.98 1157.99M752 1157.99L753.34 1151.32M753.34 1147.32L752 1140.66M735.98 1228.33L734.64 1234.99M734.64 1238.99L735.98 1245.65M752 1245.65L753.34 1238.99M753.34 1234.99L752 1228.33M709.28 1315.99L707.95 1322.66M707.95 1326.66L709.28 1333.32M725.3 1333.32L726.63 1326.66M726.63 1322.66L725.3 1315.99M735.98 1315.99L734.64 1322.66M734.64 1326.66L735.98 1333.32M752 1333.32L753.34 1326.66M753.34 1322.66L752 1315.99M735.98 1388.16L734.64 1394.82M734.64 1398.82L735.98 1405.49M752 1405.49L753.34 1398.82M753.34 1394.82L752 1388.16M620.83 1288.98L627.79 1290.31M633.36 1290.31L640.33 1288.98M630.98 1216.07L632.31 1209.44M620.83 1045.05L627.79 1043.73M633.36 1043.73L640.33 1045.05M618.98 908.51L625.64 909.83M1022.93 938.62L1022.73 940.11M1018.66 944.17L1017.18 944.37L1015.69 944.17M1011.62 940.11L1011.43 938.62L1011.62 937.13M1015.69 933.07L1017.18 932.87L1018.66 933.07M1022.73 937.13L1022.93 938.62"/>
<path stroke-width="0.818" d="M331.87 60.59L326.9 62.26M326.9 93.93L331.87 95.6M335.18 95.6L340.14 93.93M340.14 62.26L335.18 60.59M363.31 60.59L358.35 62.26M361.66 73.93L368.28 75.6L373.25 77.26M374.9 93.93L369.94 95.6M363.31 95.6L358.35 93.93M360 77.26L364.97 75.6L371.59 73.93M374.9 62.26L369.94 60.59M396.41 60.59L391.45 62.26M394.76 73.93L401.38 75.6L406.35 77.26M408 93.93L403.03 95.6M396.41 95.6L391.45 93.93M393.11 77.26L398.07 75.6L404.69 73.93M408 62.26L403.03 60.59M442.75 77.26L444.41 82.26M444.41 85.6L442.75 90.6M439.44 93.93L434.48 95.6M429.51 95.6L424.55 93.93M475.86 77.26L477.51 82.26M477.51 85.6L475.86 90.6M472.55 93.93L467.58 95.6M462.62 95.6L457.65 93.93M523.85 73.93L528.82 72.26M533.78 72.26L538.75 73.93M542.06 77.26L543.71 82.26M543.71 85.6L542.06 90.6M538.75 93.93L533.78 95.6M528.82 95.6L523.85 93.93M325.76 676.81L321.76 678.14M321.76 703.47L325.76 704.8M328.43 704.8L332.44 703.47M332.44 678.14L328.43 676.81M452.01 676.81L448.01 678.14M448.01 703.47L452.01 704.8M454.68 704.8L458.69 703.47M458.69 678.14L454.68 676.81M532.88 678.14L528.87 676.81M526.2 676.81L522.2 678.14M518.19 695.47L519.52 700.8M522.2 703.47L526.2 704.8M527.53 704.8L531.54 703.47M534.21 700.8L535.55 696.8M535.55 695.47L534.21 691.47M531.54 688.8L527.53 687.47M526.2 687.47L522.2 688.8M519.52 691.47L518.19 695.47M560.91 690.14L562.25 694.14M562.25 696.8L560.91 700.8M558.24 703.47L554.24 704.8M550.23 704.8L546.23 703.47M578.26 676.81L574.26 678.14M574.26 703.47L578.26 704.8M580.94 704.8L584.94 703.47M584.94 678.14L580.94 676.81M188.53 751.57L189.86 755.57M233.63 739.57L229.65 738.24M225.67 738.24L221.69 739.57M233.63 755.57L229.65 756.9M225.67 756.9L221.69 755.57M334.42 742.24L335.75 746.24M335.75 748.9L334.42 752.9M331.77 755.57L327.79 756.9M323.81 756.9L319.84 755.57M431.24 728.91L427.27 730.24M427.27 755.57L431.24 756.9M433.9 756.9L437.88 755.57M437.88 730.24L433.9 728.91M456.44 728.91L452.47 730.24M455.12 739.57L460.42 740.9L464.4 742.24M465.73 755.57L461.75 756.9M456.44 756.9L452.47 755.57M453.79 742.24L457.77 740.9L463.08 739.57M465.73 730.24L461.75 728.91M492.25 730.24L488.28 728.91M485.62 728.91L481.64 730.24M477.66 747.57L478.99 752.9M481.64 755.57L485.62 756.9M486.95 756.9L490.93 755.57M493.58 752.9L494.91 748.9M494.91 747.57L493.58 743.57M490.93 740.9L486.95 739.57M485.62 739.57L481.64 740.9M478.99 743.57L477.66 747.57M120.72 119.31L116.71 120.64M116.71 145.97L120.72 147.3M123.38 147.3L127.39 145.97M127.39 120.64L123.38 119.31M147.41 119.31L143.41 120.64M143.41 145.97L147.41 147.3M150.08 147.3L154.09 145.97M154.09 120.64L150.08 119.31M102.03 239.74L98.02 238.41M95.35 238.41L91.34 239.74M87.34 257.07L88.67 262.4M91.34 265.07L95.35 266.4M96.69 266.4L100.69 265.07M103.36 262.4L104.69 258.4M104.69 257.07L103.36 253.07M100.69 250.4L96.69 249.07M95.35 249.07L91.34 250.4M88.67 253.07L87.34 257.07M120.72 238.41L116.71 239.74M116.71 265.07L120.72 266.4M123.38 266.4L127.39 265.07M127.39 239.74L123.38 238.41M147.41 238.41L143.41 239.74M143.41 265.07L147.41 266.4M150.08 266.4L154.09 265.07M154.09 239.74L150.08 238.41M88.67 380.57L92.68 379.24M96.69 379.24L100.69 380.57M103.36 383.24L104.69 387.24M104.69 389.9L103.36 393.9M100.69 396.57L96.69 397.9M92.68 397.9L88.67 396.57M120.72 369.91L116.71 371.24M116.71 396.57L120.72 397.9M123.38 397.9L127.39 396.57M127.39 371.24L123.38 369.91M147.41 369.91L143.41 371.24M143.41 396.57L147.41 397.9M150.08 397.9L154.09 396.57M154.09 371.24L150.08 369.91M120.72 501.41L116.71 502.74M116.71 528.07L120.72 529.4M123.38 529.4L127.39 528.07M127.39 502.74L123.38 501.41M147.41 501.41L143.41 502.74M143.41 528.07L147.41 529.4M150.08 529.4L154.09 528.07M154.09 502.74L150.08 501.41M103.36 630.74L104.69 634.74M104.69 637.4L103.36 641.4M100.69 644.07L96.69 645.4M92.68 645.4L88.67 644.07M120.72 617.41L116.71 618.74M116.71 644.07L120.72 645.4M123.38 645.4L127.39 644.07M127.39 618.74L123.38 617.41M147.41 617.41L143.41 618.74M143.41 644.07L147.41 645.4M150.08 645.4L154.09 644.07M154.09 618.74L150.08 617.41M18.41 626.97L19.74 622.99M30.4 622.99L31.74 626.97M31.74 611.06L35.74 612.38M38.4 612.38L42.4 611.06M41.07 584.54L45.07 583.22M31.74 569.96L35.74 571.29M38.4 571.29L42.4 569.96M31.74 506.33L35.74 507.65M38.4 507.65L42.4 506.33M29.07 441.37L27.74 445.35M27.74 449.32L29.07 453.3M45.07 441.37L46.4 445.35M46.4 449.32L45.07 453.3M31.74 396.29L35.74 397.62M38.4 397.62L42.4 396.29M29.07 359.17L33.07 357.85M18.41 237.21L19.74 233.23M25.07 229.26L29.07 227.93M35.74 227.93L39.74 229.26M45.07 233.23L46.4 237.21M31.74 218.65L35.74 219.98M38.4 219.98L42.4 218.65M41.07 193.46L45.07 192.14M18.41 137.78L19.74 141.76M45.07 141.76L46.4 137.78M46.4 135.13L45.07 131.15M19.74 131.15L18.41 135.13M243.19 187.1L241.87 191.1M260.39 184.44L261.72 180.44M255.1 184.44L257.75 195.1M368.9 180.44L367.57 184.44M364.93 187.1L360.96 188.44M359.63 188.44L355.66 187.1M353.02 184.44L351.7 180.44M351.7 179.1L353.02 175.11M355.66 172.44L359.63 171.11M360.96 171.11L364.93 172.44M367.57 175.11L368.9 180.44M364.93 197.77L360.96 199.1M358.31 199.1L354.34 197.77M927.11 60.59L922.15 62.26M922.15 93.93L927.11 95.6M930.42 95.6L935.38 93.93M935.38 62.26L930.42 60.59M958.56 60.59L953.59 62.26M956.9 73.93L963.52 75.6L968.49 77.26M970.14 93.93L965.18 95.6M958.56 95.6L953.59 93.93M955.25 77.26L960.21 75.6L966.83 73.93M970.14 62.26L965.18 60.59M991.66 60.59L986.69 62.26M990 73.93L996.62 75.6L1001.59 77.26M1003.24 93.93L998.28 95.6M991.66 95.6L986.69 93.93M988.35 77.26L993.31 75.6L999.93 73.93M1003.24 62.26L998.28 60.59M1038 77.26L1039.65 82.26M1039.65 85.6L1038 90.6M1034.68 93.93L1029.72 95.6M1024.76 95.6L1019.79 93.93M1071.1 77.26L1072.75 82.26M1072.75 85.6L1071.1 90.6M1067.79 93.93L1062.82 95.6M1057.86 95.6L1052.89 93.93M1119.09 73.93L1124.06 72.26M1129.02 72.26L1133.99 73.93M1137.3 77.26L1138.95 82.26M1138.95 85.6L1137.3 90.6M1133.99 93.93L1129.02 95.6M1124.06 95.6L1119.09 93.93M921 676.81L917 678.14M917 703.47L921 704.8M923.68 704.8L927.68 703.47M927.68 678.14L923.68 676.81M1047.26 676.81L1043.25 678.14M1043.25 703.47L1047.26 704.8M1049.92 704.8L1053.93 703.47M1053.93 678.14L1049.92 676.81M1128.12 678.14L1124.11 676.81M1121.44 676.81L1117.44 678.14M1113.43 695.47L1114.77 700.8M1117.44 703.47L1121.44 704.8M1122.78 704.8L1126.78 703.47M1129.45 700.8L1130.79 696.8M1130.79 695.47L1129.45 691.47M1126.78 688.8L1122.78 687.47M1121.44 687.47L1117.44 688.8M1114.77 691.47L1113.43 695.47M1156.15 690.14L1157.49 694.14M1157.49 696.8L1156.15 700.8M1153.48 703.47L1149.48 704.8M1145.47 704.8L1141.47 703.47M1173.51 676.81L1169.5 678.14M1169.5 703.47L1173.51 704.8M1176.18 704.8L1180.18 703.47M1180.18 678.14L1176.18 676.81M783.77 751.57L785.1 755.57M828.87 739.57L824.89 738.24M820.91 738.24L816.93 739.57M828.87 755.57L824.89 756.9M820.91 756.9L816.93 755.57M929.66 742.24L930.99 746.24M930.99 748.9L929.66 752.9M927.01 755.57L923.03 756.9M919.05 756.9L915.08 755.57M1026.48 728.91L1022.51 730.24M1022.51 755.57L1026.48 756.9M1029.14 756.9L1033.12 755.57M1033.12 730.24L1029.14 728.91M1051.68 728.91L1047.71 730.24M1050.36 739.57L1055.66 740.9L1059.64 742.24M1060.97 755.57L1056.99 756.9M1051.68 756.9L1047.71 755.57M1049.03 742.24L1053.01 740.9L1058.32 739.57M1060.97 730.24L1056.99 728.91M1087.49 730.24L1083.52 728.91M1080.86 728.91L1076.88 730.24M1072.9 747.57L1074.23 752.9M1076.88 755.57L1080.86 756.9M1082.19 756.9L1086.17 755.57M1088.82 752.9L1090.15 748.9M1090.15 747.57L1088.82 743.57M1086.17 740.9L1082.19 739.57M1080.86 739.57L1076.88 740.9M1074.23 743.57L1072.9 747.57M715.96 119.31L711.95 120.64M711.95 145.97L715.96 147.3M718.62 147.3L722.63 145.97M722.63 120.64L718.62 119.31M742.65 119.31L738.65 120.64M738.65 145.97L742.65 147.3M745.33 147.3L749.33 145.97M749.33 120.64L745.33 119.31M697.26 239.74L693.26 238.41M690.59 238.41L686.59 239.74M682.58 257.07L683.91 262.4M686.59 265.07L690.59 266.4M691.92 266.4L695.93 265.07M698.6 262.4L699.94 258.4M699.94 257.07L698.6 253.07M695.93 250.4L691.92 249.07M690.59 249.07L686.59 250.4M683.91 253.07L682.58 257.07M715.96 238.41L711.95 239.74M711.95 265.07L715.96 266.4M718.62 266.4L722.63 265.07M722.63 239.74L718.62 238.41M742.65 238.41L738.65 239.74M738.65 265.07L742.65 266.4M745.33 266.4L749.33 265.07M749.33 239.74L745.33 238.41M683.91 380.57L687.92 379.24M691.92 379.24L695.93 380.57M698.6 383.24L699.94 387.24M699.94 389.9L698.6 393.9M695.93 396.57L691.92 397.9M687.92 397.9L683.91 396.57M715.96 369.91L711.95 371.24M711.95 396.57L715.96 397.9M718.62 397.9L722.63 396.57M722.63 371.24L718.62 369.91M742.65 369.91L738.65 371.24M738.65 396.57L742.65 397.9M745.33 397.9L749.33 396.57M749.33 371.24L745.33 369.91M715.96 501.41L711.95 502.74M711.95 528.07L715.96 529.4M718.62 529.4L722.63 528.07M722.63 502.74L718.62 501.41M742.65 501.41L738.65 502.74M738.65 528.07L742.65 529.4M745.33 529.4L749.33 528.07M749.33 502.74L745.33 501.41M698.6 630.74L699.94 634.74M699.94 637.4L698.6 641.4M695.93 644.07L691.92 645.4M687.92 645.4L683.91 644.07M715.96 617.41L711.95 618.74M711.95 644.07L715.96 645.4M718.62 645.4L722.63 644.07M722.63 618.74L718.62 617.41M742.65 617.41L738.65 618.74M738.65 644.07L742.65 645.4M745.33 645.4L749.33 644.07M749.33 618.74L745.33 617.41M613.65 626.97L614.98 622.99M625.64 622.99L626.98 626.97M626.98 611.06L630.98 612.38M633.64 612.38L637.64 611.06M636.31 584.54L640.31 583.22M626.98 569.96L630.98 571.29M633.64 571.29L637.64 569.96M626.98 506.33L630.98 507.65M633.64 507.65L637.64 506.33M624.31 441.37L622.98 445.35M622.98 449.32L624.31 453.3M640.31 441.37L641.64 445.35M641.64 449.32L640.31 453.3M626.98 396.29L630.98 397.62M633.64 397.62L637.64 396.29M624.31 359.17L628.31 357.85M613.65 237.21L614.98 233.23M620.31 229.26L624.31 227.93M630.98 227.93L634.98 229.26M640.31 233.23L641.64 237.21M626.98 218.65L630.98 219.98M633.64 219.98L637.64 218.65M636.31 193.46L640.31 192.14M838.43 187.1L837.11 191.1M855.63 184.44L856.96 180.44M850.34 184.44L852.99 195.1M937.67 184.44L939 188.44M939 191.1L937.67 195.1M935.03 197.77L931.06 199.1M927.09 199.1L923.12 197.77M331.87 826.01L326.9 827.68M326.9 859.35L331.87 861.02M335.18 861.02L340.14 859.35M340.14 827.68L335.18 826.01M363.31 826.01L358.35 827.68M361.66 839.35L368.28 841.02L373.25 842.68M374.9 859.35L369.94 861.02M363.31 861.02L358.35 859.35M360 842.68L364.97 841.02L371.59 839.35M374.9 827.68L369.94 826.01M396.41 826.01L391.45 827.68M394.76 839.35L401.38 841.02L406.35 842.68M408 859.35L403.03 861.02M396.41 861.02L391.45 859.35M393.11 842.68L398.07 841.02L404.69 839.35M408 827.68L403.03 826.01M442.75 842.68L444.41 847.68M444.41 851.02L442.75 856.02M439.44 859.35L434.48 861.02M429.51 861.02L424.55 859.35M475.86 842.68L477.51 847.68M477.51 851.02L475.86 856.02M472.55 859.35L467.58 861.02M462.62 861.02L457.65 859.35M523.85 839.35L528.82 837.68M533.78 837.68L538.75 839.35M542.06 842.68L543.71 847.68M543.71 851.02L542.06 856.02M538.75 859.35L533.78 861.02M528.82 861.02L523.85 859.35M325.76 1442.23L321.76 1443.56M321.76 1468.89L325.76 1470.22M328.43 1470.22L332.44 1468.89M332.44 1443.56L328.43 1442.23M452.01 1442.23L448.01 1443.56M448.01 1468.89L452.01 1470.22M454.68 1470.22L458.69 1468.89M458.69 1443.56L454.68 1442.23M532.88 1443.56L528.87 1442.23M526.2 1442.23L522.2 1443.56M518.19 1460.89L519.52 1466.22M522.2 1468.89L526.2 1470.22M527.53 1470.22L531.54 1468.89M534.21 1466.22L535.55 1462.22M535.55 1460.89L534.21 1456.89M531.54 1454.22L527.53 1452.89M526.2 1452.89L522.2 1454.22M519.52 1456.89L518.19 1460.89M560.91 1455.56L562.25 1459.56M562.25 1462.22L560.91 1466.22M558.24 1468.89L554.24 1470.22M550.23 1470.22L546.23 1468.89M578.26 1442.23L574.26 1443.56M574.26 1468.89L578.26 1470.22M580.94 1470.22L584.94 1468.89M584.94 1443.56L580.94 1442.23M188.53 1516.99L189.86 1520.99M233.63 1504.99L229.65 1503.66M225.67 1503.66L221.69 1504.99M233.63 1520.99L229.65 1522.32M225.67 1522.32L221.69 1520.99M334.42 1507.66L335.75 1511.66M335.75 1514.32L334.42 1518.32M331.77 1520.99L327.79 1522.32M323.81 1522.32L319.84 1520.99M431.24 1494.33L427.27 1495.66M427.27 1520.99L431.24 1522.32M433.9 1522.32L437.88 1520.99M437.88 1495.66L433.9 1494.33M456.44 1494.33L452.47 1495.66M455.12 1504.99L460.42 1506.32L464.4 1507.66M465.73 1520.99L461.75 1522.32M456.44 1522.32L452.47 1520.99M453.79 1507.66L457.77 1506.32L463.08 1504.99M465.73 1495.66L461.75 1494.33M492.25 1495.66L488.28 1494.33M485.62 1494.33L481.64 1495.66M477.66 1512.99L478.99 1518.32M481.64 1520.99L485.62 1522.32M486.95 1522.32L490.93 1520.99M493.58 1518.32L494.91 1514.32M494.91 1512.99L493.58 1508.99M490.93 1506.32L486.95 1504.99M485.62 1504.99L481.64 1506.32M478.99 1508.99L477.66 1512.99M102.03 886.06L98.02 884.73M95.35 884.73L91.34 886.06M87.34 903.39L88.67 908.72M91.34 911.39L95.35 912.72M96.69 912.72L100.69 911.39M103.36 908.72L104.69 904.72M104.69 903.39L103.36 899.39M100.69 896.72L96.69 895.39M95.35 895.39L91.34 896.72M88.67 899.39L87.34 903.39M120.72 884.73L116.71 886.06M116.71 911.39L120.72 912.72M123.38 912.72L127.39 911.39M127.39 886.06L123.38 884.73M147.41 884.73L143.41 886.06M143.41 911.39L147.41 912.72M150.08 912.72L154.09 911.39M154.09 886.06L150.08 884.73M88.67 1014.49L92.68 1013.16M96.69 1013.16L100.69 1014.49M103.36 1017.16L104.69 1021.16M104.69 1023.82L103.36 1027.82M100.69 1030.49L96.69 1031.82M92.68 1031.82L88.67 1030.49M120.72 1003.83L116.71 1005.16M116.71 1030.49L120.72 1031.82M123.38 1031.82L127.39 1030.49M127.39 1005.16L123.38 1003.83M147.41 1003.83L143.41 1005.16M143.41 1030.49L147.41 1031.82M150.08 1031.82L154.09 1030.49M154.09 1005.16L150.08 1003.83M120.72 1135.33L116.71 1136.66M116.71 1161.99L120.72 1163.32M123.38 1163.32L127.39 1161.99M127.39 1136.66L123.38 1135.33M147.41 1135.33L143.41 1136.66M143.41 1161.99L147.41 1163.32M150.08 1163.32L154.09 1161.99M154.09 1136.66L150.08 1135.33M103.36 1280.16L104.69 1284.16M104.69 1286.82L103.36 1290.82M100.69 1293.49L96.69 1294.82M92.68 1294.82L88.67 1293.49M120.72 1266.83L116.71 1268.16M116.71 1293.49L120.72 1294.82M123.38 1294.82L127.39 1293.49M127.39 1268.16L123.38 1266.83M147.41 1266.83L143.41 1268.16M143.41 1293.49L147.41 1294.82M150.08 1294.82L154.09 1293.49M154.09 1268.16L150.08 1266.83M120.72 1382.83L116.71 1384.16M116.71 1409.49L120.72 1410.82M123.38 1410.82L127.39 1409.49M127.39 1384.16L123.38 1382.83M147.41 1382.83L143.41 1384.16M143.41 1409.49L147.41 1410.82M150.08 1410.82L154.09 1409.49M154.09 1384.16L150.08 1382.83M18.41 1392.39L19.74 1388.41M30.4 1388.41L31.74 1392.39M31.74 1376.48L35.74 1377.8M38.4 1377.8L42.4 1376.48M41.07 1349.96L45.07 1348.64M31.74 1335.38L35.74 1336.71M38.4 1336.71L42.4 1335.38M31.74 1271.75L35.74 1273.07M38.4 1273.07L42.4 1271.75M29.07 1206.79L27.74 1210.76M27.74 1214.74L29.07 1218.72M45.07 1206.79L46.4 1210.76M46.4 1214.74L45.07 1218.72M31.74 1161.71L35.74 1163.04M38.4 1163.04L42.4 1161.71M29.07 1124.59L33.07 1123.27M18.41 1002.63L19.74 998.65M25.07 994.68L29.07 993.35M35.74 993.35L39.74 994.68M45.07 998.65L46.4 1002.63M31.74 984.07L35.74 985.4M38.4 985.4L42.4 984.07M41.07 958.88L45.07 957.56M27.74 893.92L31.74 895.25M34.4 897.9L35.74 901.88M35.74 903.2L34.4 907.18M31.74 909.83L27.74 911.16M26.41 911.16L22.41 909.83M19.74 907.18L18.41 903.2M18.41 901.88L19.74 897.9M22.41 895.25L27.74 893.92M45.07 897.9L46.4 901.88M46.4 904.53L45.07 908.51M243.19 952.52L241.87 956.52M260.39 949.86L261.72 945.86M255.1 949.86L257.75 960.52M368.9 945.86L367.57 949.86M364.93 952.52L360.96 953.86M359.63 953.86L355.66 952.52M353.02 949.86L351.7 945.86M351.7 944.52L353.02 940.53M355.66 937.86L359.63 936.53M360.96 936.53L364.93 937.86M367.57 940.53L368.9 945.86M364.93 963.19L360.96 964.52M358.31 964.52L354.34 963.19M927.11 826.01L922.15 827.68M922.15 859.35L927.11 861.02M930.42 861.02L935.38 859.35M935.38 827.68L930.42 826.01M958.56 826.01L953.59 827.68M956.9 839.35L963.52 841.02L968.49 842.68M970.14 859.35L965.18 861.02M958.56 861.02L953.59 859.35M955.25 842.68L960.21 841.02L966.83 839.35M970.14 827.68L965.18 826.01M991.66 826.01L986.69 827.68M990 839.35L996.62 841.02L1001.59 842.68M1003.24 859.35L998.28 861.02M991.66 861.02L986.69 859.35M988.35 842.68L993.31 841.02L999.93 839.35M1003.24 827.68L998.28 826.01M1038 842.68L1039.65 847.68M1039.65 851.02L1038 856.02M1034.68 859.35L1029.72 861.02M1024.76 861.02L1019.79 859.35M1071.1 842.68L1072.75 847.68M1072.75 851.02L1071.1 856.02M1067.79 859.35L1062.82 861.02M1057.86 861.02L1052.89 859.35M1119.09 839.35L1124.06 837.68M1129.02 837.68L1133.99 839.35M1137.3 842.68L1138.95 847.68M1138.95 851.02L1137.3 856.02M1133.99 859.35L1129.02 861.02M1124.06 861.02L1119.09 859.35M921 1442.23L917 1443.56M917 1468.89L921 1470.22M923.68 1470.22L927.68 1468.89M927.68 1443.56L923.68 1442.23M1047.26 1442.23L1043.25 1443.56M1043.25 1468.89L1047.26 1470.22M1049.92 1470.22L1053.93 1468.89M1053.93 1443.56L1049.92 1442.23M1128.12 1443.56L1124.11 1442.23M1121.44 1442.23L1117.44 1443.56M1113.43 1460.89L1114.77 1466.22M1117.44 1468.89L1121.44 1470.22M1122.78 1470.22L1126.78 1468.89M1129.45 1466.22L1130.79 1462.22M1130.79 1460.89L1129.45 1456.89M1126.78 1454.22L1122.78 1452.89M1121.44 1452.89L1117.44 1454.22M1114.77 1456.89L1113.43 1460.89M1156.15 1455.56L1157.49 1459.56M1157.49 1462.22L1156.15 1466.22M1153.48 1468.89L1149.48 1470.22M1145.47 1470.22L1141.47 1468.89M1173.51 1442.23L1169.5 1443.56M1169.5 1468.89L1173.51 1470.22M1176.18 1470.22L1180.18 1468.89M1180.18 1443.56L1176.18 1442.23M783.77 1516.99L785.1 1520.99M828.87 1504.99L824.89 1503.66M820.91 1503.66L816.93 1504.99M828.87 1520.99L824.89 1522.32M820.91 1522.32L816.93 1520.99M929.66 1507.66L930.99 1511.66M930.99 1514.32L929.66 1518.32M927.01 1520.99L923.03 1522.32M919.05 1522.32L915.08 1520.99M1026.48 1494.33L1022.51 1495.66M1022.51 1520.99L1026.48 1522.32M1029.14 1522.32L1033.12 1520.99M1033.12 1495.66L1029.14 1494.33M1051.68 1494.33L1047.71 1495.66M1050.36 1504.99L1055.66 1506.32L1059.64 1507.66M1060.97 1520.99L1056.99 1522.32M1051.68 1522.32L1047.71 1520.99M1049.03 1507.66L1053.01 1506.32L1058.32 1504.99M1060.97 1495.66L1056.99 1494.33M1087.49 1495.66L1083.52 1494.33M1080.86 1494.33L1076.88 1495.66M1072.9 1512.99L1074.23 1518.32M1076.88 1520.99L1080.86 1522.32M1082.19 1522.32L1086.17 1520.99M1088.82 1518.32L1090.15 1514.32M1090.15 1512.99L1088.82 1508.99M1086.17 1506.32L1082.19 1504.99M1080.86 1504.99L1076.88 1506.32M1074.23 1508.99L1072.9 1512.99M710.62 895.39L714.62 894.06M718.62 894.06L722.63 895.39M725.3 898.06L726.63 902.06M726.63 904.72L725.3 908.72M722.63 911.39L718.62 912.72M714.62 912.72L710.62 911.39M742.65 884.73L738.65 886.06M738.65 911.39L742.65 912.72M745.33 912.72L749.33 911.39M749.33 886.06L745.33 884.73M715.96 959.99L711.95 961.33M711.95 986.65L715.96 987.99M718.62 987.99L722.63 986.65M722.63 961.33L718.62 959.99M742.65 959.99L738.65 961.33M738.65 986.65L742.65 987.99M745.33 987.99L749.33 986.65M749.33 961.33L745.33 959.99M698.6 1060.99L699.94 1064.99M699.94 1067.66L698.6 1071.65M695.93 1074.32L691.92 1075.65M687.92 1075.65L683.91 1074.32M710.62 1058.32L714.62 1056.99M718.62 1056.99L722.63 1058.32M725.3 1060.99L726.63 1064.99M726.63 1067.66L725.3 1071.65M722.63 1074.32L718.62 1075.65M714.62 1075.65L710.62 1074.32M742.65 1047.66L738.65 1048.99M738.65 1074.32L742.65 1075.65M745.33 1075.65L749.33 1074.32M749.33 1048.99L745.33 1047.66M698.6 1148.66L699.94 1152.66M699.94 1155.32L698.6 1159.32M695.93 1161.99L691.92 1163.32M687.92 1163.32L683.91 1161.99M715.96 1135.33L711.95 1136.66M711.95 1161.99L715.96 1163.32M718.62 1163.32L722.63 1161.99M722.63 1136.66L718.62 1135.33M742.65 1135.33L738.65 1136.66M738.65 1161.99L742.65 1163.32M745.33 1163.32L749.33 1161.99M749.33 1136.66L745.33 1135.33M710.62 1233.66L714.62 1232.32M718.62 1232.32L722.63 1233.66M725.3 1236.32L726.63 1240.32M726.63 1242.99L725.3 1246.99M722.63 1249.65L718.62 1250.99M714.62 1250.99L710.62 1249.65M742.65 1222.99L738.65 1224.33M738.65 1249.65L742.65 1250.99M745.33 1250.99L749.33 1249.65M749.33 1224.33L745.33 1222.99M715.96 1310.66L711.95 1311.99M711.95 1337.32L715.96 1338.65M718.62 1338.65L722.63 1337.32M722.63 1311.99L718.62 1310.66M742.65 1310.66L738.65 1311.99M738.65 1337.32L742.65 1338.65M745.33 1338.65L749.33 1337.32M749.33 1311.99L745.33 1310.66M710.62 1393.49L714.62 1392.16M718.62 1392.16L722.63 1393.49M725.3 1396.16L726.63 1400.16M726.63 1402.82L725.3 1406.82M722.63 1409.49L718.62 1410.82M714.62 1410.82L710.62 1409.49M742.65 1382.83L738.65 1384.16M738.65 1409.49L742.65 1410.82M745.33 1410.82L749.33 1409.49M749.33 1384.16L745.33 1382.83M613.65 1392.39L614.98 1388.41M625.64 1388.41L626.98 1392.39M626.98 1376.48L630.98 1377.8M633.64 1377.8L637.64 1376.48M636.31 1349.96L640.31 1348.64M626.98 1335.38L630.98 1336.71M633.64 1336.71L637.64 1335.38M626.98 1271.75L630.98 1273.07M633.64 1273.07L637.64 1271.75M624.31 1206.79L622.98 1210.76M622.98 1214.74L624.31 1218.72M640.31 1206.79L641.64 1210.76M641.64 1214.74L640.31 1218.72M626.98 1161.71L630.98 1163.04M633.64 1163.04L637.64 1161.71M624.31 1124.59L628.31 1123.27M613.65 1002.63L614.98 998.65M620.31 994.68L624.31 993.35M630.98 993.35L634.98 994.68M640.31 998.65L641.64 1002.63M626.98 984.07L630.98 985.4M633.64 985.4L637.64 984.07M636.31 958.88L640.31 957.56M614.98 895.25L613.65 899.23M613.65 901.88L614.98 905.85M632.31 909.83L637.64 908.51M640.31 905.85L641.64 901.88M641.64 900.55L640.31 896.57M637.64 893.92L633.64 892.6M632.31 892.6L628.31 893.92M625.64 896.57L624.31 900.55M624.31 901.88L625.64 905.85M628.31 908.51L632.31 909.83M838.43 952.52L837.11 956.52M855.63 949.86L856.96 945.86M850.34 949.86L852.99 960.52M923.12 947.19L927.09 945.86M931.06 945.86L935.03 947.19M937.67 949.86L939 953.86M939 956.52L937.67 960.52M935.03 963.19L931.06 964.52M927.09 964.52L923.12 963.19M949.58 947.19L953.55 945.86M957.52 945.86L961.49 947.19M964.14 949.86L965.46 953.86M965.46 956.52L964.14 960.52M961.49 963.19L957.52 964.52M953.55 964.52L949.58 963.19M989.28 947.19L993.25 945.86M997.22 945.86L1001.19 947.19M1003.83 949.86L1005.16 953.86M1005.16 956.52L1003.83 960.52M1001.19 963.19L997.22 964.52M993.25 964.52L989.28 963.19"/>
<path stroke-width="0.918" d="M194.5 67.26L197.81 65.59M224.29 67.26L225.95 63.93M227.6 62.26L230.91 60.59M237.53 60.59L240.84 62.26M242.5 63.93L244.15 67.26M244.15 70.59L242.5 73.93M260.7 67.26L264.01 65.59M293.81 67.26L297.12 65.59M358.35 62.26L356.69 65.59M356.69 68.93L358.35 72.26L361.66 73.93M376.55 80.6L378.21 83.93M378.21 88.93L376.55 92.27M356.69 92.27L355.04 88.93M355.04 83.93L356.69 80.6M371.59 73.93L374.9 72.26L376.55 68.93M376.55 65.59L374.9 62.26M391.45 62.26L389.79 65.59M389.79 68.93L391.45 72.26L394.76 73.93M409.65 80.6L411.31 83.93M411.31 88.93L409.65 92.27M389.79 92.27L388.14 88.93M388.14 83.93L389.79 80.6M404.69 73.93L408 72.26L409.65 68.93M409.65 65.59L408 62.26M437.79 73.93L441.1 75.6M422.89 92.27L421.24 88.93M470.89 73.93L474.2 75.6M456 92.27L454.34 88.93M522.19 92.27L520.54 88.93M265.69 682.14L267.02 679.47M268.36 678.14L271.03 676.81M276.37 676.81L279.04 678.14M280.37 679.47L281.71 682.14M281.71 684.81L280.37 687.47M295.06 682.14L297.73 680.81M418.64 682.14L419.97 679.47M421.31 678.14L423.98 676.81M429.32 676.81L431.99 678.14M433.32 679.47L434.66 682.14M434.66 684.81L433.32 687.47M534.21 680.81L532.88 678.14M556.9 687.47L559.58 688.8M544.89 702.13L543.56 699.47M189.86 755.57L192.51 756.9M207.1 730.51L204.45 736.09M204.45 755.59L207.1 761.16M234.95 742.24L233.63 739.57M221.69 739.57L220.36 742.24L221.69 744.9L224.34 746.24M230.97 747.57L233.63 748.9L234.95 751.57M234.95 752.9L233.63 755.57M221.69 755.57L220.36 752.9M248.22 730.51L250.87 736.09M250.87 755.59L248.22 761.16M330.45 739.57L333.1 740.9M318.51 754.23L317.18 751.57M362.28 728.91L349.01 756.9M400.74 734.24L403.39 732.91M452.47 730.24L451.14 732.91M451.14 735.57L452.47 738.24L455.12 739.57M467.05 744.9L468.38 747.57M468.38 751.57L467.05 754.23M451.14 754.23L449.81 751.57M449.81 747.57L451.14 744.9M463.08 739.57L465.73 738.24L467.05 735.57M467.05 732.91L465.73 730.24M493.58 732.91L492.25 730.24M504.19 734.24L505.52 731.57M506.84 730.24L509.5 728.91M514.8 728.91L517.45 730.24M518.78 731.57L520.11 734.24M520.11 736.9L518.78 739.57M104.69 119.31L91.34 147.3M103.36 242.41L102.03 239.74M87.34 395.23L86 392.57M99.36 628.07L102.03 629.4M87.34 642.73L86 640.07M21.07 621.66L23.74 620.34M26.41 620.34L29.07 621.66M29.07 599.13L27.74 601.78M27.74 605.75L29.07 608.41M45.07 608.41L46.4 605.75M46.4 601.78L45.07 599.13M45.07 583.22L46.4 580.57M33.07 555.38L30.4 556.7M29.07 558.03L27.74 560.68M27.74 564.66L29.07 567.31M45.07 567.31L46.4 564.66M46.4 560.68L45.07 558.03M20.01 520.91L25.59 523.56M45.09 523.56L50.66 520.91M29.07 494.4L27.74 497.05M27.74 501.02L29.07 503.68M45.07 503.68L46.4 501.02M46.4 497.05L45.07 494.4M31.74 440.04L29.07 441.37M29.07 453.3L31.74 454.62L34.4 453.3L35.74 450.65M37.07 444.02L38.4 441.37L41.07 440.04M42.4 440.04L45.07 441.37M45.07 453.3L42.4 454.62M47.73 428.11L50.4 429.44M29.07 384.36L27.74 387.01M27.74 390.99L29.07 393.64M45.07 393.64L46.4 390.99M46.4 387.01L45.07 384.36M29.07 368.45L27.74 365.8M27.74 361.83L29.07 359.17M23.74 310.12L22.41 307.47M20.01 282.28L25.59 279.63M45.09 279.63L50.66 282.28M22.41 230.58L25.07 229.26M39.74 229.26L42.4 230.58M33.07 204.07L30.4 205.39M29.07 206.72L27.74 209.37M27.74 213.35L29.07 216M45.07 216L46.4 213.35M46.4 209.37L45.07 206.72M45.07 192.14L46.4 189.48M249.81 180.44L247.16 181.77M244.52 184.44L243.19 187.1M241.87 195.1L243.19 197.77L245.84 199.1M248.49 199.1L251.13 197.77M257.75 189.77L260.39 184.44M253.78 181.77L255.1 184.44M257.75 195.1L259.07 197.77M326.55 176.44L327.88 173.77M329.2 172.44L331.85 171.11M337.14 171.11L339.79 172.44M341.11 173.77L342.43 176.44M342.43 179.1L341.11 181.77M354.34 197.77L353.02 195.1M395.36 176.44L398.01 175.11M427.49 174.69L426.92 176.07M424.81 178.18L423.42 178.75M420.45 178.75L419.06 178.18M416.96 176.07L416.38 174.69M416.38 171.71L416.96 170.32M419.06 168.22L420.45 167.65M423.42 167.65L424.81 168.22M426.92 170.32L427.49 171.71M789.75 67.26L793.06 65.59M819.54 67.26L821.19 63.93M822.85 62.26L826.16 60.59M832.78 60.59L836.09 62.26M837.74 63.93L839.4 67.26M839.4 70.59L837.74 73.93M855.95 67.26L859.26 65.59M889.05 67.26L892.36 65.59M953.59 62.26L951.94 65.59M951.94 68.93L953.59 72.26L956.9 73.93M971.8 80.6L973.45 83.93M973.45 88.93L971.8 92.27M951.94 92.27L950.28 88.93M950.28 83.93L951.94 80.6M966.83 73.93L970.14 72.26L971.8 68.93M971.8 65.59L970.14 62.26M986.69 62.26L985.04 65.59M985.04 68.93L986.69 72.26L990 73.93M1004.9 80.6L1006.55 83.93M1006.55 88.93L1004.9 92.27M985.04 92.27L983.38 88.93M983.38 83.93L985.04 80.6M999.93 73.93L1003.24 72.26L1004.9 68.93M1004.9 65.59L1003.24 62.26M1033.03 73.93L1036.34 75.6M1018.13 92.27L1016.48 88.93M1066.13 73.93L1069.44 75.6M1051.24 92.27L1049.58 88.93M1117.43 92.27L1115.78 88.93M860.93 682.14L862.26 679.47M863.6 678.14L866.27 676.81M871.61 676.81L874.28 678.14M875.62 679.47L876.95 682.14M876.95 684.81L875.62 687.47M890.3 682.14L892.97 680.81M1013.88 682.14L1015.22 679.47M1016.55 678.14L1019.22 676.81M1024.56 676.81L1027.23 678.14M1028.57 679.47L1029.9 682.14M1029.9 684.81L1028.57 687.47M1129.45 680.81L1128.12 678.14M1152.15 687.47L1154.82 688.8M1140.13 702.13L1138.8 699.47M785.1 755.57L787.75 756.9M802.34 730.51L799.69 736.09M799.69 755.59L802.34 761.16M830.19 742.24L828.87 739.57M816.93 739.57L815.6 742.24L816.93 744.9L819.58 746.24M826.21 747.57L828.87 748.9L830.19 751.57M830.19 752.9L828.87 755.57M816.93 755.57L815.6 752.9M843.45 730.51L846.11 736.09M846.11 755.59L843.45 761.16M925.69 739.57L928.34 740.9M913.75 754.23L912.42 751.57M957.52 728.91L944.25 756.9M995.98 734.24L998.63 732.91M1047.71 730.24L1046.38 732.91M1046.38 735.57L1047.71 738.24L1050.36 739.57M1062.29 744.9L1063.62 747.57M1063.62 751.57L1062.29 754.23M1046.38 754.23L1045.05 751.57M1045.05 747.57L1046.38 744.9M1058.32 739.57L1060.97 738.24L1062.29 735.57M1062.29 732.91L1060.97 730.24M1088.82 732.91L1087.49 730.24M1099.43 734.24L1100.76 731.57M1102.08 730.24L1104.74 728.91M1110.04 728.91L1112.69 730.24M1114.02 731.57L1115.35 734.24M1115.35 736.9L1114.02 739.57M699.94 119.31L686.59 147.3M698.6 242.41L697.26 239.74M682.58 395.23L681.25 392.57M694.6 628.07L697.26 629.4M682.58 642.73L681.25 640.07M616.31 621.66L618.98 620.34M621.64 620.34L624.31 621.66M624.31 599.13L622.98 601.78M622.98 605.75L624.31 608.41M640.31 608.41L641.64 605.75M641.64 601.78L640.31 599.13M640.31 583.22L641.64 580.57M628.31 555.38L625.64 556.7M624.31 558.03L622.98 560.68M622.98 564.66L624.31 567.31M640.31 567.31L641.64 564.66M641.64 560.68L640.31 558.03M615.25 520.91L620.83 523.56M640.33 523.56L645.9 520.91M624.31 494.4L622.98 497.05M622.98 501.02L624.31 503.68M640.31 503.68L641.64 501.02M641.64 497.05L640.31 494.4M626.98 440.04L624.31 441.37M624.31 453.3L626.98 454.62L629.64 453.3L630.98 450.65M632.31 444.02L633.64 441.37L636.31 440.04M637.64 440.04L640.31 441.37M640.31 453.3L637.64 454.62M642.97 428.11L645.64 429.44M624.31 384.36L622.98 387.01M622.98 390.99L624.31 393.64M640.31 393.64L641.64 390.99M641.64 387.01L640.31 384.36M624.31 368.45L622.98 365.8M622.98 361.83L624.31 359.17M618.98 310.12L617.65 307.47M615.25 282.28L620.83 279.63M640.33 279.63L645.9 282.28M617.65 230.58L620.31 229.26M634.98 229.26L637.64 230.58M628.31 204.07L625.64 205.39M624.31 206.72L622.98 209.37M622.98 213.35L624.31 216M640.31 216L641.64 213.35M641.64 209.37L640.31 206.72M640.31 192.14L641.64 189.48M618.98 141.76L617.65 139.11M845.05 180.44L842.4 181.77M839.76 184.44L838.43 187.1M837.11 195.1L838.43 197.77L841.08 199.1M843.73 199.1L846.37 197.77M852.99 189.77L855.63 184.44M849.02 181.77L850.34 184.44M852.99 195.1L854.31 197.77M933.7 181.77L936.35 183.1M921.79 196.43L920.47 193.77M950.9 176.44L953.55 175.11M1005.16 171.11L991.92 199.1M1022.73 174.69L1022.16 176.07M1020.05 178.18L1018.66 178.75M1015.69 178.75L1014.3 178.18M1012.2 176.07L1011.62 174.69M1011.62 171.71L1012.2 170.32M1014.3 168.22L1015.69 167.65M1018.66 167.65L1020.05 168.22M1022.16 170.32L1022.73 171.71M194.5 832.68L197.81 831.01M224.29 832.68L225.95 829.35M227.6 827.68L230.91 826.01M237.53 826.01L240.84 827.68M242.5 829.35L244.15 832.68M244.15 836.01L242.5 839.35M260.7 832.68L264.01 831.01M293.81 832.68L297.12 831.01M358.35 827.68L356.69 831.01M356.69 834.35L358.35 837.68L361.66 839.35M376.55 846.02L378.21 849.35M378.21 854.35L376.55 857.69M356.69 857.69L355.04 854.35M355.04 849.35L356.69 846.02M371.59 839.35L374.9 837.68L376.55 834.35M376.55 831.01L374.9 827.68M391.45 827.68L389.79 831.01M389.79 834.35L391.45 837.68L394.76 839.35M409.65 846.02L411.31 849.35M411.31 854.35L409.65 857.69M389.79 857.69L388.14 854.35M388.14 849.35L389.79 846.02M404.69 839.35L408 837.68L409.65 834.35M409.65 831.01L408 827.68M437.79 839.35L441.1 841.02M422.89 857.69L421.24 854.35M470.89 839.35L474.2 841.02M456 857.69L454.34 854.35M522.19 857.69L520.54 854.35M265.69 1447.56L267.02 1444.89M268.36 1443.56L271.03 1442.23M276.37 1442.23L279.04 1443.56M280.37 1444.89L281.71 1447.56M281.71 1450.23L280.37 1452.89M295.06 1447.56L297.73 1446.23M418.64 1447.56L419.97 1444.89M421.31 1443.56L423.98 1442.23M429.32 1442.23L431.99 1443.56M433.32 1444.89L434.66 1447.56M434.66 1450.23L433.32 1452.89M534.21 1446.23L532.88 1443.56M556.9 1452.89L559.58 1454.22M544.89 1467.55L543.56 1464.89M189.86 1520.99L192.51 1522.32M207.1 1495.93L204.45 1501.51M204.45 1521.01L207.1 1526.58M234.95 1507.66L233.63 1504.99M221.69 1504.99L220.36 1507.66L221.69 1510.32L224.34 1511.66M230.97 1512.99L233.63 1514.32L234.95 1516.99M234.95 1518.32L233.63 1520.99M221.69 1520.99L220.36 1518.32M248.22 1495.93L250.87 1501.51M250.87 1521.01L248.22 1526.58M330.45 1504.99L333.1 1506.32M318.51 1519.65L317.18 1516.99M362.28 1494.33L349.01 1522.32M400.74 1499.66L403.39 1498.33M452.47 1495.66L451.14 1498.33M451.14 1500.99L452.47 1503.66L455.12 1504.99M467.05 1510.32L468.38 1512.99M468.38 1516.99L467.05 1519.65M451.14 1519.65L449.81 1516.99M449.81 1512.99L451.14 1510.32M463.08 1504.99L465.73 1503.66L467.05 1500.99M467.05 1498.33L465.73 1495.66M493.58 1498.33L492.25 1495.66M504.19 1499.66L505.52 1496.99M506.84 1495.66L509.5 1494.33M514.8 1494.33L517.45 1495.66M518.78 1496.99L520.11 1499.66M520.11 1502.33L518.78 1504.99M103.36 888.73L102.03 886.06M87.34 1029.15L86 1026.49M99.36 1277.49L102.03 1278.82M87.34 1292.15L86 1289.49M87.34 1388.16L88.67 1385.49M90.01 1384.16L92.68 1382.83M98.02 1382.83L100.69 1384.16M102.03 1385.49L103.36 1388.16M103.36 1390.83L102.03 1393.49M21.07 1387.08L23.74 1385.76M26.41 1385.76L29.07 1387.08M29.07 1364.55L27.74 1367.2M27.74 1371.17L29.07 1373.83M45.07 1373.83L46.4 1371.17M46.4 1367.2L45.07 1364.55M45.07 1348.64L46.4 1345.99M33.07 1320.8L30.4 1322.12M29.07 1323.45L27.74 1326.1M27.74 1330.08L29.07 1332.73M45.07 1332.73L46.4 1330.08M46.4 1326.1L45.07 1323.45M20.01 1286.33L25.59 1288.98M45.09 1288.98L50.66 1286.33M29.07 1259.82L27.74 1262.47M27.74 1266.44L29.07 1269.1M45.07 1269.1L46.4 1266.44M46.4 1262.47L45.07 1259.82M31.74 1205.46L29.07 1206.79M29.07 1218.72L31.74 1220.04L34.4 1218.72L35.74 1216.07M37.07 1209.44L38.4 1206.79L41.07 1205.46M42.4 1205.46L45.07 1206.79M45.07 1218.72L42.4 1220.04M47.73 1193.53L50.4 1194.86M29.07 1149.78L27.74 1152.43M27.74 1156.41L29.07 1159.06M45.07 1159.06L46.4 1156.41M46.4 1152.43L45.07 1149.78M29.07 1133.87L27.74 1131.22M27.74 1127.25L29.07 1124.59M23.74 1075.54L22.41 1072.89M20.01 1047.7L25.59 1045.05M45.09 1045.05L50.66 1047.7M22.41 996L25.07 994.68M39.74 994.68L42.4 996M33.07 969.49L30.4 970.81M29.07 972.14L27.74 974.79M27.74 978.77L29.07 981.42M45.07 981.42L46.4 978.77M46.4 974.79L45.07 972.14M45.07 957.56L46.4 954.9M45.07 908.51L42.4 909.83M249.81 945.86L247.16 947.19M244.52 949.86L243.19 952.52M241.87 960.52L243.19 963.19L245.84 964.52M248.49 964.52L251.13 963.19M257.75 955.19L260.39 949.86M253.78 947.19L255.1 949.86M257.75 960.52L259.07 963.19M326.55 941.86L327.88 939.19M329.2 937.86L331.85 936.53M337.14 936.53L339.79 937.86M341.11 939.19L342.43 941.86M342.43 944.52L341.11 947.19M354.34 963.19L353.02 960.52M427.49 940.11L426.92 941.5M424.81 943.6L423.42 944.17M420.45 944.17L419.06 943.6M416.96 941.5L416.38 940.11M416.38 937.13L416.96 935.75M419.06 933.64L420.45 933.07M423.42 933.07L424.81 933.64M426.92 935.75L427.49 937.13M789.75 832.68L793.06 831.01M819.54 832.68L821.19 829.35M822.85 827.68L826.16 826.01M832.78 826.01L836.09 827.68M837.74 829.35L839.4 832.68M839.4 836.01L837.74 839.35M855.95 832.68L859.26 831.01M889.05 832.68L892.36 831.01M953.59 827.68L951.94 831.01M951.94 834.35L953.59 837.68L956.9 839.35M971.8 846.02L973.45 849.35M973.45 854.35L971.8 857.69M951.94 857.69L950.28 854.35M950.28 849.35L951.94 846.02M966.83 839.35L970.14 837.68L971.8 834.35M971.8 831.01L970.14 827.68M986.69 827.68L985.04 831.01M985.04 834.35L986.69 837.68L990 839.35M1004.9 846.02L1006.55 849.35M1006.55 854.35L1004.9 857.69M985.04 857.69L983.38 854.35M983.38 849.35L985.04 846.02M999.93 839.35L1003.24 837.68L1004.9 834.35M1004.9 831.01L1003.24 827.68M1033.03 839.35L1036.34 841.02M1018.13 857.69L1016.48 854.35M1066.13 839.35L1069.44 841.02M1051.24 857.69L1049.58 854.35M1117.43 857.69L1115.78 854.35M860.93 1447.56L862.26 1444.89M863.6 1443.56L866.27 1442.23M871.61 1442.23L874.28 1443.56M875.62 1444.89L876.95 1447.56M876.95 1450.23L875.62 1452.89M890.3 1447.56L892.97 1446.23M1013.88 1447.56L1015.22 1444.89M1016.55 1443.56L1019.22 1442.23M1024.56 1442.23L1027.23 1443.56M1028.57 1444.89L1029.9 1447.56M1029.9 1450.23L1028.57 1452.89M1129.45 1446.23L1128.12 1443.56M1152.15 1452.89L1154.82 1454.22M1140.13 1467.55L1138.8 1464.89M785.1 1520.99L787.75 1522.32M802.34 1495.93L799.69 1501.51M799.69 1521.01L802.34 1526.58M830.19 1507.66L828.87 1504.99M816.93 1504.99L815.6 1507.66L816.93 1510.32L819.58 1511.66M826.21 1512.99L828.87 1514.32L830.19 1516.99M830.19 1518.32L828.87 1520.99M816.93 1520.99L815.6 1518.32M843.45 1495.93L846.11 1501.51M846.11 1521.01L843.45 1526.58M925.69 1504.99L928.34 1506.32M913.75 1519.65L912.42 1516.99M957.52 1494.33L944.25 1522.32M995.98 1499.66L998.63 1498.33M1047.71 1495.66L1046.38 1498.33M1046.38 1500.99L1047.71 1503.66L1050.36 1504.99M1062.29 1510.32L1063.62 1512.99M1063.62 1516.99L1062.29 1519.65M1046.38 1519.65L1045.05 1516.99M1045.05 1512.99L1046.38 1510.32M1058.32 1504.99L1060.97 1503.66L1062.29 1500.99M1062.29 1498.33L1060.97 1495.66M1088.82 1498.33L1087.49 1495.66M1099.43 1499.66L1100.76 1496.99M1102.08 1495.66L1104.74 1494.33M1110.04 1494.33L1112.69 1495.66M1114.02 1496.99L1115.35 1499.66M1115.35 1502.33L1114.02 1504.99M709.28 910.05L707.95 907.39M694.6 1058.32L697.26 1059.66M682.58 1072.99L681.25 1070.32M709.28 1072.99L707.95 1070.32M694.6 1145.99L697.26 1147.32M682.58 1160.65L681.25 1157.99M682.58 1228.33L683.91 1225.66M685.25 1224.33L687.92 1222.99M693.26 1222.99L695.93 1224.33M697.26 1225.66L698.6 1228.33M698.6 1230.99L697.26 1233.66M709.28 1248.32L707.95 1245.65M682.58 1315.99L683.91 1313.33M685.25 1311.99L687.92 1310.66M693.26 1310.66L695.93 1311.99M697.26 1313.33L698.6 1315.99M698.6 1318.66L697.26 1321.32M685.25 1388.16L687.92 1386.83M709.28 1408.15L707.95 1405.49M616.31 1387.08L618.98 1385.76M621.64 1385.76L624.31 1387.08M624.31 1364.55L622.98 1367.2M622.98 1371.17L624.31 1373.83M640.31 1373.83L641.64 1371.17M641.64 1367.2L640.31 1364.55M640.31 1348.64L641.64 1345.99M628.31 1320.8L625.64 1322.12M624.31 1323.45L622.98 1326.1M622.98 1330.08L624.31 1332.73M640.31 1332.73L641.64 1330.08M641.64 1326.1L640.31 1323.45M615.25 1286.33L620.83 1288.98M640.33 1288.98L645.9 1286.33M624.31 1259.82L622.98 1262.47M622.98 1266.44L624.31 1269.1M640.31 1269.1L641.64 1266.44M641.64 1262.47L640.31 1259.82M626.98 1205.46L624.31 1206.79M624.31 1218.72L626.98 1220.04L629.64 1218.72L630.98 1216.07M632.31 1209.44L633.64 1206.79L636.31 1205.46M637.64 1205.46L640.31 1206.79M640.31 1218.72L637.64 1220.04M642.97 1193.53L645.64 1194.86M624.31 1149.78L622.98 1152.43M622.98 1156.41L624.31 1159.06M640.31 1159.06L641.64 1156.41M641.64 1152.43L640.31 1149.78M624.31 1133.87L622.98 1131.22M622.98 1127.25L624.31 1124.59M618.98 1075.54L617.65 1072.89M615.25 1047.7L620.83 1045.05M640.33 1045.05L645.9 1047.7M617.65 996L620.31 994.68M634.98 994.68L637.64 996M628.31 969.49L625.64 970.81M624.31 972.14L622.98 974.79M622.98 978.77L624.31 981.42M640.31 981.42L641.64 978.77M641.64 974.79L640.31 972.14M640.31 957.56L641.64 954.9M617.65 893.92L614.98 895.25M845.05 945.86L842.4 947.19M839.76 949.86L838.43 952.52M837.11 960.52L838.43 963.19L841.08 964.52M843.73 964.52L846.37 963.19M852.99 955.19L855.63 949.86M849.02 947.19L850.34 949.86M852.99 960.52L854.31 963.19M921.79 961.85L920.47 959.19M948.26 961.85L946.94 959.19M987.95 961.85L986.63 959.19M1022.73 940.11L1022.16 941.5M1020.05 943.6L1018.66 944.17M1015.69 944.17L1014.3 943.6M1012.2 941.5L1011.62 940.11M1011.62 937.13L1012.2 935.75M1014.3 933.64L1015.69 933.07M1018.66 933.07L1020.05 933.64M1022.16 935.75L1022.73 937.13"/>
<path stroke-width="0.960" d="M197.81 65.59L202.78 60.59M225.95 63.93L227.6 62.26M240.84 62.26L242.5 63.93M242.5 73.93L239.19 78.93L222.64 95.6M264.01 65.59L268.98 60.59M297.12 65.59L302.08 60.59M326.9 62.26L323.6 67.26M323.6 88.93L326.9 93.93M340.14 93.93L343.45 88.93M343.45 67.26L340.14 62.26M373.25 77.26L376.55 80.6M376.55 92.27L374.9 93.93M358.35 93.93L356.69 92.27M356.69 80.6L360 77.26M406.35 77.26L409.65 80.6M409.65 92.27L408 93.93M391.45 93.93L389.79 92.27M389.79 80.6L393.11 77.26M442.75 60.59L432.82 73.93M441.1 75.6L442.75 77.26M442.75 90.6L439.44 93.93M424.55 93.93L422.89 92.27M475.86 60.59L465.93 73.93M474.2 75.6L475.86 77.26M475.86 90.6L472.55 93.93M457.65 93.93L456 92.27M503.99 60.59L487.44 83.93M522.19 75.6L523.85 73.93M538.75 73.93L542.06 77.26M542.06 90.6L538.75 93.93M523.85 93.93L522.19 92.27M267.02 679.47L268.36 678.14M279.04 678.14L280.37 679.47M280.37 687.47L277.7 691.47L264.35 704.8M297.73 680.81L301.73 676.81M321.76 678.14L319.09 682.14M319.09 699.47L321.76 703.47M332.44 703.47L335.11 699.47M335.11 682.14L332.44 678.14M403.95 676.81L390.6 695.47M419.97 679.47L421.31 678.14M431.99 678.14L433.32 679.47M433.32 687.47L430.65 691.47L417.3 704.8M448.01 678.14L445.34 682.14M445.34 699.47L448.01 703.47M458.69 703.47L461.36 699.47M461.36 682.14L458.69 678.14M522.2 678.14L519.52 682.14M519.52 700.8L522.2 703.47M531.54 703.47L534.21 700.8M534.21 691.47L531.54 688.8M522.2 688.8L519.52 691.47M560.91 676.81L552.9 687.47M559.58 688.8L560.91 690.14M560.91 700.8L558.24 703.47M546.23 703.47L544.89 702.13M574.26 678.14L571.59 682.14M571.59 699.47L574.26 703.47M584.94 703.47L587.61 699.47M587.61 682.14L584.94 678.14M212.4 723.55L209.75 726.33L207.1 730.51M207.1 761.16L209.75 765.34L212.4 768.12M242.91 723.55L245.56 726.33L248.22 730.51M248.22 761.16L245.56 765.34L242.91 768.12M334.42 728.91L326.47 739.57M333.1 740.9L334.42 742.24M334.42 752.9L331.77 755.57M319.84 755.57L318.51 754.23M383.5 728.91L370.23 747.57M403.39 732.91L407.37 728.91M427.27 730.24L424.61 734.24M424.61 751.57L427.27 755.57M437.88 755.57L440.53 751.57M440.53 734.24L437.88 730.24M464.4 742.24L467.05 744.9M467.05 754.23L465.73 755.57M452.47 755.57L451.14 754.23M451.14 744.9L453.79 742.24M481.64 730.24L478.99 734.24M478.99 752.9L481.64 755.57M490.93 755.57L493.58 752.9M493.58 743.57L490.93 740.9M481.64 740.9L478.99 743.57M505.52 731.57L506.84 730.24M517.45 730.24L518.78 731.57M518.78 739.57L516.13 743.57L502.86 756.9M542.65 728.91L529.39 747.57M116.71 120.64L114.04 124.64M114.04 141.97L116.71 145.97M127.39 145.97L130.06 141.97M130.06 124.64L127.39 120.64M143.41 120.64L140.74 124.64M140.74 141.97L143.41 145.97M154.09 145.97L156.76 141.97M156.76 124.64L154.09 120.64M91.34 239.74L88.67 243.74M88.67 262.4L91.34 265.07M100.69 265.07L103.36 262.4M103.36 253.07L100.69 250.4M91.34 250.4L88.67 253.07M116.71 239.74L114.04 243.74M114.04 261.07L116.71 265.07M127.39 265.07L130.06 261.07M130.06 243.74L127.39 239.74M143.41 239.74L140.74 243.74M140.74 261.07L143.41 265.07M154.09 265.07L156.76 261.07M156.76 243.74L154.09 239.74M87.34 381.9L88.67 380.57M100.69 380.57L103.36 383.24M103.36 393.9L100.69 396.57M88.67 396.57L87.34 395.23M116.71 371.24L114.04 375.24M114.04 392.57L116.71 396.57M127.39 396.57L130.06 392.57M130.06 375.24L127.39 371.24M143.41 371.24L140.74 375.24M140.74 392.57L143.41 396.57M154.09 396.57L156.76 392.57M156.76 375.24L154.09 371.24M99.36 501.41L86 520.07M116.71 502.74L114.04 506.74M114.04 524.07L116.71 528.07M127.39 528.07L130.06 524.07M130.06 506.74L127.39 502.74M143.41 502.74L140.74 506.74M140.74 524.07L143.41 528.07M154.09 528.07L156.76 524.07M156.76 506.74L154.09 502.74M103.36 617.41L95.35 628.07M102.03 629.4L103.36 630.74M103.36 641.4L100.69 644.07M88.67 644.07L87.34 642.73M116.71 618.74L114.04 622.74M114.04 640.07L116.71 644.07M127.39 644.07L130.06 640.07M130.06 622.74L127.39 618.74M143.41 618.74L140.74 622.74M140.74 640.07L143.41 644.07M154.09 644.07L156.76 640.07M156.76 622.74L154.09 618.74M19.74 622.99L21.07 621.66M29.07 621.66L30.4 622.99M31.74 629.62L46.4 620.34M31.74 596.47L29.07 599.13M29.07 608.41L31.74 611.06M42.4 611.06L45.07 608.41M45.07 599.13L42.4 596.47M30.4 556.7L29.07 558.03M29.07 567.31L31.74 569.96M42.4 569.96L45.07 567.31M45.07 558.03L42.4 555.38M13.05 515.61L15.83 518.26L20.01 520.91M50.66 520.91L54.84 518.26L57.62 515.61M31.74 491.74L29.07 494.4M29.07 503.68L31.74 506.33M42.4 506.33L45.07 503.68M45.07 494.4L42.4 491.74M13.58 461.25L57.09 485.12M45.07 427.85L46.67 429.44L45.07 431.03L43.47 429.44L45.07 427.85M50.4 429.44L51.73 430.76M31.74 381.71L29.07 384.36M29.07 393.64L31.74 396.29M42.4 396.29L45.07 393.64M45.07 384.36L42.4 381.71M33.07 372.43L29.07 368.45M22.41 307.47L18.41 303.5M13.05 287.59L15.83 284.94L20.01 282.28M50.66 282.28L54.84 284.94L57.62 287.59M19.74 233.23L22.41 230.58M42.4 230.58L45.07 233.23M30.4 205.39L29.07 206.72M29.07 216L31.74 218.65M42.4 218.65L45.07 216M45.07 206.72L42.4 204.07M19.74 141.76L23.74 144.41M41.07 144.41L45.07 141.76M45.07 131.15L41.07 128.5M23.74 128.5L19.74 131.15M247.16 181.77L244.52 184.44M251.13 197.77L255.1 193.77L257.75 189.77M252.46 180.44L253.78 181.77M259.07 197.77L260.39 199.1M327.88 173.77L329.2 172.44M339.79 172.44L341.11 173.77M341.11 181.77L338.46 185.77L325.23 199.1M367.57 184.44L364.93 187.1M355.66 187.1L353.02 184.44M353.02 175.11L355.66 172.44M364.93 172.44L367.57 175.11M367.57 193.77L364.93 197.77M398.01 175.11L401.98 171.11M426.92 176.07L426 177.27L424.81 178.18M419.06 178.18L417.87 177.27L416.96 176.07M416.96 170.32L417.87 169.13L419.06 168.22M424.81 168.22L426 169.13L426.92 170.32M793.06 65.59L798.02 60.59M821.19 63.93L822.85 62.26M836.09 62.26L837.74 63.93M837.74 73.93L834.43 78.93L817.88 95.6M859.26 65.59L864.22 60.59M892.36 65.59L897.32 60.59M922.15 62.26L918.84 67.26M918.84 88.93L922.15 93.93M935.38 93.93L938.7 88.93M938.7 67.26L935.38 62.26M968.49 77.26L971.8 80.6M971.8 92.27L970.14 93.93M953.59 93.93L951.94 92.27M951.94 80.6L955.25 77.26M1001.59 77.26L1004.9 80.6M1004.9 92.27L1003.24 93.93M986.69 93.93L985.04 92.27M985.04 80.6L988.35 77.26M1038 60.59L1028.07 73.93M1036.34 75.6L1038 77.26M1038 90.6L1034.68 93.93M1019.79 93.93L1018.13 92.27M1071.1 60.59L1061.16 73.93M1069.44 75.6L1071.1 77.26M1071.1 90.6L1067.79 93.93M1052.89 93.93L1051.24 92.27M1099.23 60.59L1082.68 83.93M1117.43 75.6L1119.09 73.93M1133.99 73.93L1137.3 77.26M1137.3 90.6L1133.99 93.93M1119.09 93.93L1117.43 92.27M862.26 679.47L863.6 678.14M874.28 678.14L875.62 679.47M875.62 687.47L872.95 691.47L859.6 704.8M892.97 680.81L896.98 676.81M917 678.14L914.33 682.14M914.33 699.47L917 703.47M927.68 703.47L930.35 699.47M930.35 682.14L927.68 678.14M999.2 676.81L985.85 695.47M1015.22 679.47L1016.55 678.14M1027.23 678.14L1028.57 679.47M1028.57 687.47L1025.89 691.47L1012.55 704.8M1043.25 678.14L1040.58 682.14M1040.58 699.47L1043.25 703.47M1053.93 703.47L1056.6 699.47M1056.6 682.14L1053.93 678.14M1117.44 678.14L1114.77 682.14M1114.77 700.8L1117.44 703.47M1126.78 703.47L1129.45 700.8M1129.45 691.47L1126.78 688.8M1117.44 688.8L1114.77 691.47M1156.15 676.81L1148.14 687.47M1154.82 688.8L1156.15 690.14M1156.15 700.8L1153.48 703.47M1141.47 703.47L1140.13 702.13M1169.5 678.14L1166.83 682.14M1166.83 699.47L1169.5 703.47M1180.18 703.47L1182.85 699.47M1182.85 682.14L1180.18 678.14M807.64 723.55L804.99 726.33L802.34 730.51M802.34 761.16L804.99 765.34L807.64 768.12M838.15 723.55L840.8 726.33L843.45 730.51M843.45 761.16L840.8 765.34L838.15 768.12M929.66 728.91L921.71 739.57M928.34 740.9L929.66 742.24M929.66 752.9L927.01 755.57M915.08 755.57L913.75 754.23M978.74 728.91L965.47 747.57M998.63 732.91L1002.61 728.91M1022.51 730.24L1019.85 734.24M1019.85 751.57L1022.51 755.57M1033.12 755.57L1035.77 751.57M1035.77 734.24L1033.12 730.24M1059.64 742.24L1062.29 744.9M1062.29 754.23L1060.97 755.57M1047.71 755.57L1046.38 754.23M1046.38 744.9L1049.03 742.24M1076.88 730.24L1074.23 734.24M1074.23 752.9L1076.88 755.57M1086.17 755.57L1088.82 752.9M1088.82 743.57L1086.17 740.9M1076.88 740.9L1074.23 743.57M1100.76 731.57L1102.08 730.24M1112.69 730.24L1114.02 731.57M1114.02 739.57L1111.37 743.57L1098.1 756.9M1137.89 728.91L1124.63 747.57M711.95 120.64L709.28 124.64M709.28 141.97L711.95 145.97M722.63 145.97L725.3 141.97M725.3 124.64L722.63 120.64M738.65 120.64L735.98 124.64M735.98 141.97L738.65 145.97M749.33 145.97L752 141.97M752 124.64L749.33 120.64M686.59 239.74L683.91 243.74M683.91 262.4L686.59 265.07M695.93 265.07L698.6 262.4M698.6 253.07L695.93 250.4M686.59 250.4L683.91 253.07M711.95 239.74L709.28 243.74M709.28 261.07L711.95 265.07M722.63 265.07L725.3 261.07M725.3 243.74L722.63 239.74M738.65 239.74L735.98 243.74M735.98 261.07L738.65 265.07M749.33 265.07L752 261.07M752 243.74L749.33 239.74M682.58 381.9L683.91 380.57M695.93 380.57L698.6 383.24M698.6 393.9L695.93 396.57M683.91 396.57L682.58 395.23M711.95 371.24L709.28 375.24M709.28 392.57L711.95 396.57M722.63 396.57L725.3 392.57M725.3 375.24L722.63 371.24M738.65 371.24L735.98 375.24M735.98 392.57L738.65 396.57M749.33 396.57L752 392.57M752 375.24L749.33 371.24M694.6 501.41L681.25 520.07M711.95 502.74L709.28 506.74M709.28 524.07L711.95 528.07M722.63 528.07L725.3 524.07M725.3 506.74L722.63 502.74M738.65 502.74L735.98 506.74M735.98 524.07L738.65 528.07M749.33 528.07L752 524.07M752 506.74L749.33 502.74M698.6 617.41L690.59 628.07M697.26 629.4L698.6 630.74M698.6 641.4L695.93 644.07M683.91 644.07L682.58 642.73M711.95 618.74L709.28 622.74M709.28 640.07L711.95 644.07M722.63 644.07L725.3 640.07M725.3 622.74L722.63 618.74M738.65 618.74L735.98 622.74M735.98 640.07L738.65 644.07M749.33 644.07L752 640.07M752 622.74L749.33 618.74M614.98 622.99L616.31 621.66M624.31 621.66L625.64 622.99M626.98 629.62L641.64 620.34M626.98 596.47L624.31 599.13M624.31 608.41L626.98 611.06M637.64 611.06L640.31 608.41M640.31 599.13L637.64 596.47M625.64 556.7L624.31 558.03M624.31 567.31L626.98 569.96M637.64 569.96L640.31 567.31M640.31 558.03L637.64 555.38M608.29 515.61L611.07 518.26L615.25 520.91M645.9 520.91L650.08 518.26L652.86 515.61M626.98 491.74L624.31 494.4M624.31 503.68L626.98 506.33M637.64 506.33L640.31 503.68M640.31 494.4L637.64 491.74M608.82 461.25L652.33 485.12M640.31 427.85L641.91 429.44L640.31 431.03L638.71 429.44L640.31 427.85M645.64 429.44L646.97 430.76M626.98 381.71L624.31 384.36M624.31 393.64L626.98 396.29M637.64 396.29L640.31 393.64M640.31 384.36L637.64 381.71M628.31 372.43L624.31 368.45M617.65 307.47L613.65 303.5M608.29 287.59L611.07 284.94L615.25 282.28M645.9 282.28L650.08 284.94L652.86 287.59M614.98 233.23L617.65 230.58M637.64 230.58L640.31 233.23M625.64 205.39L624.31 206.72M624.31 216L626.98 218.65M637.64 218.65L640.31 216M640.31 206.72L637.64 204.07M617.65 139.11L613.65 135.13M842.4 181.77L839.76 184.44M846.37 197.77L850.34 193.77L852.99 189.77M847.7 180.44L849.02 181.77M854.31 197.77L855.63 199.1M937.67 171.11L929.73 181.77M936.35 183.1L937.67 184.44M937.67 195.1L935.03 197.77M923.12 197.77L921.79 196.43M953.55 175.11L957.52 171.11M1022.16 176.07L1021.24 177.27L1020.05 178.18M1014.3 178.18L1013.11 177.27L1012.2 176.07M1012.2 170.32L1013.11 169.13L1014.3 168.22M1020.05 168.22L1021.24 169.13L1022.16 170.32M197.81 831.01L202.78 826.01M225.95 829.35L227.6 827.68M240.84 827.68L242.5 829.35M242.5 839.35L239.19 844.35L222.64 861.02M264.01 831.01L268.98 826.01M297.12 831.01L302.08 826.01M326.9 827.68L323.6 832.68M323.6 854.35L326.9 859.35M340.14 859.35L343.45 854.35M343.45 832.68L340.14 827.68M373.25 842.68L376.55 846.02M376.55 857.69L374.9 859.35M358.35 859.35L356.69 857.69M356.69 846.02L360 842.68M406.35 842.68L409.65 846.02M409.65 857.69L408 859.35M391.45 859.35L389.79 857.69M389.79 846.02L393.11 842.68M442.75 826.01L432.82 839.35M441.1 841.02L442.75 842.68M442.75 856.02L439.44 859.35M424.55 859.35L422.89 857.69M475.86 826.01L465.93 839.35M474.2 841.02L475.86 842.68M475.86 856.02L472.55 859.35M457.65 859.35L456 857.69M503.99 826.01L487.44 849.35M522.19 841.02L523.85 839.35M538.75 839.35L542.06 842.68M542.06 856.02L538.75 859.35M523.85 859.35L522.19 857.69M267.02 1444.89L268.36 1443.56M279.04 1443.56L280.37 1444.89M280.37 1452.89L277.7 1456.89L264.35 1470.22M297.73 1446.23L301.73 1442.23M321.76 1443.56L319.09 1447.56M319.09 1464.89L321.76 1468.89M332.44 1468.89L335.11 1464.89M335.11 1447.56L332.44 1443.56M403.95 1442.23L390.6 1460.89M419.97 1444.89L421.31 1443.56M431.99 1443.56L433.32 1444.89M433.32 1452.89L430.65 1456.89L417.3 1470.22M448.01 1443.56L445.34 1447.56M445.34 1464.89L448.01 1468.89M458.69 1468.89L461.36 1464.89M461.36 1447.56L458.69 1443.56M522.2 1443.56L519.52 1447.56M519.52 1466.22L522.2 1468.89M531.54 1468.89L534.21 1466.22M534.21 1456.89L531.54 1454.22M522.2 1454.22L519.52 1456.89M560.91 1442.23L552.9 1452.89M559.58 1454.22L560.91 1455.56M560.91 1466.22L558.24 1468.89M546.23 1468.89L544.89 1467.55M574.26 1443.56L571.59 1447.56M571.59 1464.89L574.26 1468.89M584.94 1468.89L587.61 1464.89M587.61 1447.56L584.94 1443.56M212.4 1488.97L209.75 1491.75L207.1 1495.93M207.1 1526.58L209.75 1530.76L212.4 1533.54M242.91 1488.97L245.56 1491.75L248.22 1495.93M248.22 1526.58L245.56 1530.76L242.91 1533.54M334.42 1494.33L326.47 1504.99M333.1 1506.32L334.42 1507.66M334.42 1518.32L331.77 1520.99M319.84 1520.99L318.51 1519.65M383.5 1494.33L370.23 1512.99M403.39 1498.33L407.37 1494.33M427.27 1495.66L424.61 1499.66M424.61 1516.99L427.27 1520.99M437.88 1520.99L440.53 1516.99M440.53 1499.66L437.88 1495.66M464.4 1507.66L467.05 1510.32M467.05 1519.65L465.73 1520.99M452.47 1520.99L451.14 1519.65M451.14 1510.32L453.79 1507.66M481.64 1495.66L478.99 1499.66M478.99 1518.32L481.64 1520.99M490.93 1520.99L493.58 1518.32M493.58 1508.99L490.93 1506.32M481.64 1506.32L478.99 1508.99M505.52 1496.99L506.84 1495.66M517.45 1495.66L518.78 1496.99M518.78 1504.99L516.13 1508.99L502.86 1522.32M542.65 1494.33L529.39 1512.99M91.34 886.06L88.67 890.06M88.67 908.72L91.34 911.39M100.69 911.39L103.36 908.72M103.36 899.39L100.69 896.72M91.34 896.72L88.67 899.39M116.71 886.06L114.04 890.06M114.04 907.39L116.71 911.39M127.39 911.39L130.06 907.39M130.06 890.06L127.39 886.06M143.41 886.06L140.74 890.06M140.74 907.39L143.41 911.39M154.09 911.39L156.76 907.39M156.76 890.06L154.09 886.06M87.34 1015.82L88.67 1014.49M100.69 1014.49L103.36 1017.16M103.36 1027.82L100.69 1030.49M88.67 1030.49L87.34 1029.15M116.71 1005.16L114.04 1009.16M114.04 1026.49L116.71 1030.49M127.39 1030.49L130.06 1026.49M130.06 1009.16L127.39 1005.16M143.41 1005.16L140.74 1009.16M140.74 1026.49L143.41 1030.49M154.09 1030.49L156.76 1026.49M156.76 1009.16L154.09 1005.16M99.36 1135.33L86 1153.99M116.71 1136.66L114.04 1140.66M114.04 1157.99L116.71 1161.99M127.39 1161.99L130.06 1157.99M130.06 1140.66L127.39 1136.66M143.41 1136.66L140.74 1140.66M140.74 1157.99L143.41 1161.99M154.09 1161.99L156.76 1157.99M156.76 1140.66L154.09 1136.66M103.36 1266.83L95.35 1277.49M102.03 1278.82L103.36 1280.16M103.36 1290.82L100.69 1293.49M88.67 1293.49L87.34 1292.15M116.71 1268.16L114.04 1272.16M114.04 1289.49L116.71 1293.49M127.39 1293.49L130.06 1289.49M130.06 1272.16L127.39 1268.16M143.41 1268.16L140.74 1272.16M140.74 1289.49L143.41 1293.49M154.09 1293.49L156.76 1289.49M156.76 1272.16L154.09 1268.16M88.67 1385.49L90.01 1384.16M100.69 1384.16L102.03 1385.49M102.03 1393.49L99.36 1397.49L86 1410.82M116.71 1384.16L114.04 1388.16M114.04 1405.49L116.71 1409.49M127.39 1409.49L130.06 1405.49M130.06 1388.16L127.39 1384.16M143.41 1384.16L140.74 1388.16M140.74 1405.49L143.41 1409.49M154.09 1409.49L156.76 1405.49M156.76 1388.16L154.09 1384.16M19.74 1388.41L21.07 1387.08M29.07 1387.08L30.4 1388.41M31.74 1395.04L46.4 1385.76M31.74 1361.89L29.07 1364.55M29.07 1373.83L31.74 1376.48M42.4 1376.48L45.07 1373.83M45.07 1364.55L42.4 1361.89M30.4 1322.12L29.07 1323.45M29.07 1332.73L31.74 1335.38M42.4 1335.38L45.07 1332.73M45.07 1323.45L42.4 1320.8M13.05 1281.03L15.83 1283.68L20.01 1286.33M50.66 1286.33L54.84 1283.68L57.62 1281.03M31.74 1257.16L29.07 1259.82M29.07 1269.1L31.74 1271.75M42.4 1271.75L45.07 1269.1M45.07 1259.82L42.4 1257.16M13.58 1226.67L57.09 1250.54M45.07 1193.27L46.67 1194.86L45.07 1196.45L43.47 1194.86L45.07 1193.27M50.4 1194.86L51.73 1196.18M31.74 1147.13L29.07 1149.78M29.07 1159.06L31.74 1161.71M42.4 1161.71L45.07 1159.06M45.07 1149.78L42.4 1147.13M33.07 1137.85L29.07 1133.87M22.41 1072.89L18.41 1068.92M13.05 1053.01L15.83 1050.36L20.01 1047.7M50.66 1047.7L54.84 1050.36L57.62 1053.01M19.74 998.65L22.41 996M42.4 996L45.07 998.65M30.4 970.81L29.07 972.14M29.07 981.42L31.74 984.07M42.4 984.07L45.07 981.42M45.07 972.14L42.4 969.49M31.74 895.25L34.4 897.9M34.4 907.18L31.74 909.83M22.41 909.83L19.74 907.18M19.74 897.9L22.41 895.25M41.07 895.25L45.07 897.9M247.16 947.19L244.52 949.86M251.13 963.19L255.1 959.19L257.75 955.19M252.46 945.86L253.78 947.19M259.07 963.19L260.39 964.52M327.88 939.19L329.2 937.86M339.79 937.86L341.11 939.19M341.11 947.19L338.46 951.19L325.23 964.52M367.57 949.86L364.93 952.52M355.66 952.52L353.02 949.86M353.02 940.53L355.66 937.86M364.93 937.86L367.57 940.53M367.57 959.19L364.93 963.19M404.62 936.53L391.39 955.19M426.92 941.5L426 942.69L424.81 943.6M419.06 943.6L417.87 942.69L416.96 941.5M416.96 935.75L417.87 934.55L419.06 933.64M424.81 933.64L426 934.55L426.92 935.75M793.06 831.01L798.02 826.01M821.19 829.35L822.85 827.68M836.09 827.68L837.74 829.35M837.74 839.35L834.43 844.35L817.88 861.02M859.26 831.01L864.22 826.01M892.36 831.01L897.32 826.01M922.15 827.68L918.84 832.68M918.84 854.35L922.15 859.35M935.38 859.35L938.7 854.35M938.7 832.68L935.38 827.68M968.49 842.68L971.8 846.02M971.8 857.69L970.14 859.35M953.59 859.35L951.94 857.69M951.94 846.02L955.25 842.68M1001.59 842.68L1004.9 846.02M1004.9 857.69L1003.24 859.35M986.69 859.35L985.04 857.69M985.04 846.02L988.35 842.68M1038 826.01L1028.07 839.35M1036.34 841.02L1038 842.68M1038 856.02L1034.68 859.35M1019.79 859.35L1018.13 857.69M1071.1 826.01L1061.16 839.35M1069.44 841.02L1071.1 842.68M1071.1 856.02L1067.79 859.35M1052.89 859.35L1051.24 857.69M1099.23 826.01L1082.68 849.35M1117.43 841.02L1119.09 839.35M1133.99 839.35L1137.3 842.68M1137.3 856.02L1133.99 859.35M1119.09 859.35L1117.43 857.69M862.26 1444.89L863.6 1443.56M874.28 1443.56L875.62 1444.89M875.62 1452.89L872.95 1456.89L859.6 1470.22M892.97 1446.23L896.98 1442.23M917 1443.56L914.33 1447.56M914.33 1464.89L917 1468.89M927.68 1468.89L930.35 1464.89M930.35 1447.56L927.68 1443.56M999.2 1442.23L985.85 1460.89M1015.22 1444.89L1016.55 1443.56M1027.23 1443.56L1028.57 1444.89M1028.57 1452.89L1025.89 1456.89L1012.55 1470.22M1043.25 1443.56L1040.58 1447.56M1040.58 1464.89L1043.25 1468.89M1053.93 1468.89L1056.6 1464.89M1056.6 1447.56L1053.93 1443.56M1117.44 1443.56L1114.77 1447.56M1114.77 1466.22L1117.44 1468.89M1126.78 1468.89L1129.45 1466.22M1129.45 1456.89L1126.78 1454.22M1117.44 1454.22L1114.77 1456.89M1156.15 1442.23L1148.14 1452.89M1154.82 1454.22L1156.15 1455.56M1156.15 1466.22L1153.48 1468.89M1141.47 1468.89L1140.13 1467.55M1169.5 1443.56L1166.83 1447.56M1166.83 1464.89L1169.5 1468.89M1180.18 1468.89L1182.85 1464.89M1182.85 1447.56L1180.18 1443.56M807.64 1488.97L804.99 1491.75L802.34 1495.93M802.34 1526.58L804.99 1530.76L807.64 1533.54M838.15 1488.97L840.8 1491.75L843.45 1495.93M843.45 1526.58L840.8 1530.76L838.15 1533.54M929.66 1494.33L921.71 1504.99M928.34 1506.32L929.66 1507.66M929.66 1518.32L927.01 1520.99M915.08 1520.99L913.75 1519.65M978.74 1494.33L965.47 1512.99M998.63 1498.33L1002.61 1494.33M1022.51 1495.66L1019.85 1499.66M1019.85 1516.99L1022.51 1520.99M1033.12 1520.99L1035.77 1516.99M1035.77 1499.66L1033.12 1495.66M1059.64 1507.66L1062.29 1510.32M1062.29 1519.65L1060.97 1520.99M1047.71 1520.99L1046.38 1519.65M1046.38 1510.32L1049.03 1507.66M1076.88 1495.66L1074.23 1499.66M1074.23 1518.32L1076.88 1520.99M1086.17 1520.99L1088.82 1518.32M1088.82 1508.99L1086.17 1506.32M1076.88 1506.32L1074.23 1508.99M1100.76 1496.99L1102.08 1495.66M1112.69 1495.66L1114.02 1496.99M1114.02 1504.99L1111.37 1508.99L1098.1 1522.32M1137.89 1494.33L1124.63 1512.99M694.6 884.73L681.25 903.39M709.28 896.72L710.62 895.39M722.63 895.39L725.3 898.06M725.3 908.72L722.63 911.39M710.62 911.39L709.28 910.05M738.65 886.06L735.98 890.06M735.98 907.39L738.65 911.39M749.33 911.39L752 907.39M752 890.06L749.33 886.06M694.6 959.99L681.25 978.66M711.95 961.33L709.28 965.33M709.28 982.65L711.95 986.65M722.63 986.65L725.3 982.65M725.3 965.33L722.63 961.33M738.65 961.33L735.98 965.33M735.98 982.65L738.65 986.65M749.33 986.65L752 982.65M752 965.33L749.33 961.33M698.6 1047.66L690.59 1058.32M697.26 1059.66L698.6 1060.99M698.6 1071.65L695.93 1074.32M683.91 1074.32L682.58 1072.99M709.28 1059.66L710.62 1058.32M722.63 1058.32L725.3 1060.99M725.3 1071.65L722.63 1074.32M710.62 1074.32L709.28 1072.99M738.65 1048.99L735.98 1052.99M735.98 1070.32L738.65 1074.32M749.33 1074.32L752 1070.32M752 1052.99L749.33 1048.99M698.6 1135.33L690.59 1145.99M697.26 1147.32L698.6 1148.66M698.6 1159.32L695.93 1161.99M683.91 1161.99L682.58 1160.65M711.95 1136.66L709.28 1140.66M709.28 1157.99L711.95 1161.99M722.63 1161.99L725.3 1157.99M725.3 1140.66L722.63 1136.66M738.65 1136.66L735.98 1140.66M735.98 1157.99L738.65 1161.99M749.33 1161.99L752 1157.99M752 1140.66L749.33 1136.66M683.91 1225.66L685.25 1224.33M695.93 1224.33L697.26 1225.66M697.26 1233.66L694.6 1237.66L681.25 1250.99M709.28 1234.99L710.62 1233.66M722.63 1233.66L725.3 1236.32M725.3 1246.99L722.63 1249.65M710.62 1249.65L709.28 1248.32M738.65 1224.33L735.98 1228.33M735.98 1245.65L738.65 1249.65M749.33 1249.65L752 1245.65M752 1228.33L749.33 1224.33M683.91 1313.33L685.25 1311.99M695.93 1311.99L697.26 1313.33M697.26 1321.32L694.6 1325.32L681.25 1338.65M711.95 1311.99L709.28 1315.99M709.28 1333.32L711.95 1337.32M722.63 1337.32L725.3 1333.32M725.3 1315.99L722.63 1311.99M738.65 1311.99L735.98 1315.99M735.98 1333.32L738.65 1337.32M749.33 1337.32L752 1333.32M752 1315.99L749.33 1311.99M687.92 1386.83L691.92 1382.83M709.28 1394.82L710.62 1393.49M722.63 1393.49L725.3 1396.16M725.3 1406.82L722.63 1409.49M710.62 1409.49L709.28 1408.15M738.65 1384.16L735.98 1388.16M735.98 1405.49L738.65 1409.49M749.33 1409.49L752 1405.49M752 1388.16L749.33 1384.16M614.98 1388.41L616.31 1387.08M624.31 1387.08L625.64 1388.41M626.98 1395.04L641.64 1385.76M626.98 1361.89L624.31 1364.55M624.31 1373.83L626.98 1376.48M637.64 1376.48L640.31 1373.83M640.31 1364.55L637.64 1361.89M625.64 1322.12L624.31 1323.45M624.31 1332.73L626.98 1335.38M637.64 1335.38L640.31 1332.73M640.31 1323.45L637.64 1320.8M608.29 1281.03L611.07 1283.68L615.25 1286.33M645.9 1286.33L650.08 1283.68L652.86 1281.03M626.98 1257.16L624.31 1259.82M624.31 1269.1L626.98 1271.75M637.64 1271.75L640.31 1269.1M640.31 1259.82L637.64 1257.16M608.82 1226.67L652.33 1250.54M640.31 1193.27L641.91 1194.86L640.31 1196.45L638.71 1194.86L640.31 1193.27M645.64 1194.86L646.97 1196.18M626.98 1147.13L624.31 1149.78M624.31 1159.06L626.98 1161.71M637.64 1161.71L640.31 1159.06M640.31 1149.78L637.64 1147.13M628.31 1137.85L624.31 1133.87M617.65 1072.89L613.65 1068.92M608.29 1053.01L611.07 1050.36L615.25 1047.7M645.9 1047.7L650.08 1050.36L652.86 1053.01M614.98 998.65L617.65 996M637.64 996L640.31 998.65M625.64 970.81L624.31 972.14M624.31 981.42L626.98 984.07M637.64 984.07L640.31 981.42M640.31 972.14L637.64 969.49M614.98 905.85L618.98 908.51M637.64 908.51L640.31 905.85M640.31 896.57L637.64 893.92M628.31 893.92L625.64 896.57M625.64 905.85L628.31 908.51M842.4 947.19L839.76 949.86M846.37 963.19L850.34 959.19L852.99 955.19M847.7 945.86L849.02 947.19M854.31 963.19L855.63 964.52M921.79 948.52L923.12 947.19M935.03 947.19L937.67 949.86M937.67 960.52L935.03 963.19M923.12 963.19L921.79 961.85M948.26 948.52L949.58 947.19M961.49 947.19L964.14 949.86M964.14 960.52L961.49 963.19M949.58 963.19L948.26 961.85M987.95 948.52L989.28 947.19M1001.19 947.19L1003.83 949.86M1003.83 960.52L1001.19 963.19M989.28 963.19L987.95 961.85M1022.16 941.5L1021.24 942.69L1020.05 943.6M1014.3 943.6L1013.11 942.69L1012.2 941.5M1012.2 935.75L1013.11 934.55L1014.3 933.64M1020.05 933.64L1021.24 934.55L1022.16 935.75"/></g>
</g>
</svg>
</body></html>
